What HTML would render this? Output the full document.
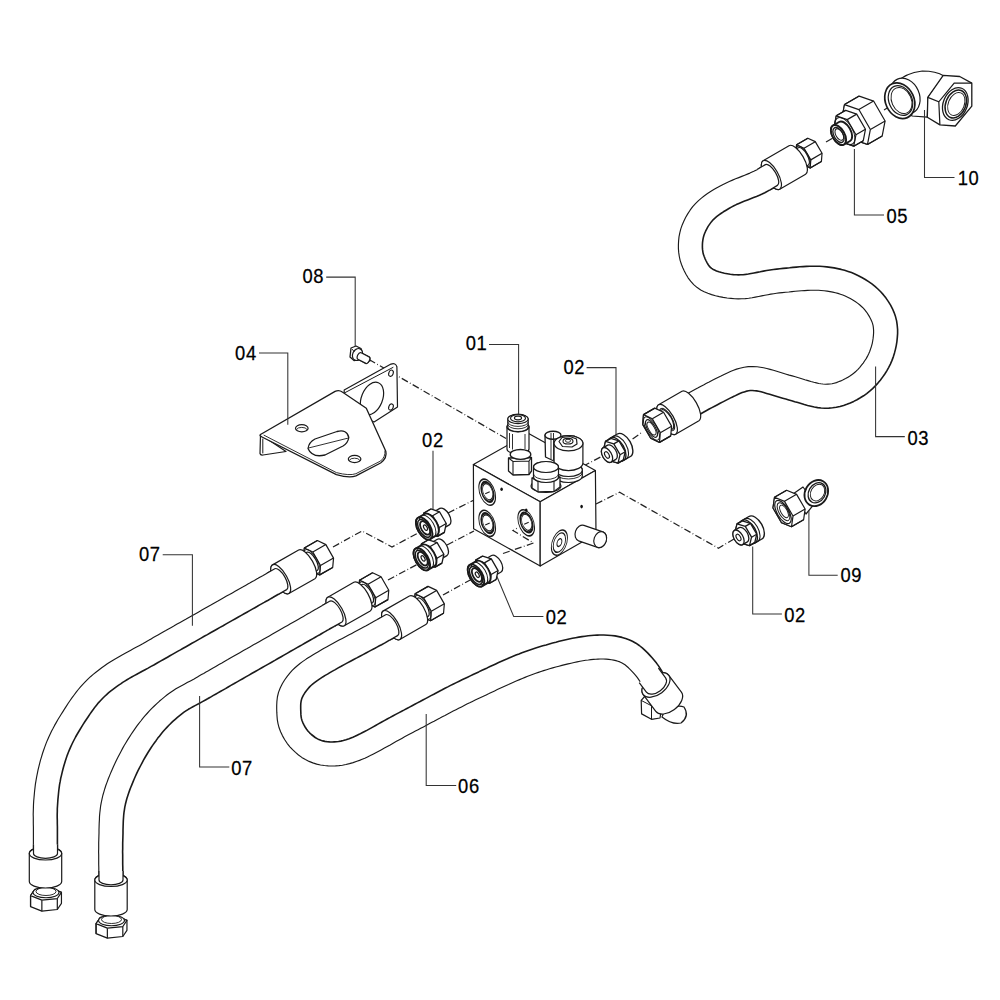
<!DOCTYPE html>
<html><head><meta charset="utf-8"><style>
html,body{margin:0;padding:0;background:#fff;width:1000px;height:1000px;overflow:hidden}
svg{display:block}
text{font-family:"Liberation Sans",sans-serif;font-size:20px;fill:#000;stroke:#000;stroke-width:0.25px}
</style></head><body>
<svg width="1000" height="1000" viewBox="0 0 1000 1000">
<rect width="1000" height="1000" fill="#fff"/>
<path d="M274.8,568.8 L272.0,570.3 L269.5,571.8 L266.6,573.5 L262.7,575.7 L261.3,576.4 L259.8,577.3 L258.1,578.3 L256.3,579.3 L254.4,580.4 L252.3,581.5 L250.2,582.8 L247.9,584.0 L245.5,585.4 L243.1,586.8 L240.5,588.2 L237.8,589.7 L235.1,591.3 L232.3,592.9 L229.5,594.5 L226.5,596.1 L223.6,597.8 L220.6,599.5 L217.5,601.3 L214.4,603.0 L211.3,604.8 L208.2,606.5 L205.0,608.3 L201.9,610.1 L198.7,611.9 L195.6,613.7 L192.4,615.5 L189.3,617.2 L186.2,619.0 L183.1,620.7 L180.1,622.4 L177.1,624.1 L174.2,625.8 L171.3,627.4 L168.5,629.0 L165.8,630.6 L163.1,632.1 L160.5,633.6 L158.0,635.0 L155.6,636.3 L153.3,637.6 L151.1,638.9 L149.1,640.1 L145.8,641.9 L142.7,643.7 L139.6,645.4 L136.6,647.0 L133.7,648.6 L130.8,650.2 L128.0,651.7 L125.2,653.2 L122.5,654.7 L119.9,656.2 L117.3,657.7 L114.7,659.2 L112.2,660.7 L109.7,662.3 L107.3,663.8 L104.9,665.5 L101.7,667.7 L98.8,670.0 L95.9,672.2 L93.2,674.4 L90.5,676.7 L87.9,679.1 L85.4,681.7 L82.8,684.3 L80.5,686.9 L78.3,689.5 L76.2,692.2 L74.1,695.0 L72.1,697.7 L70.1,700.5 L68.2,703.3 L66.4,706.1 L64.6,708.9 L62.9,711.6 L61.2,714.3 L59.5,717.0 L57.8,719.8 L56.2,722.6 L54.6,725.4 L53.1,728.3 L51.5,731.2 L50.1,734.2 L48.7,737.3 L47.3,740.4 L46.0,743.6 L44.8,746.9 L43.6,750.2 L42.5,753.5 L41.5,756.9 L40.5,760.2 L39.6,763.6 L38.8,766.9 L38.0,770.2 L37.3,773.6 L36.6,777.1 L36.0,780.6 L35.4,784.1 L35.0,787.6 L34.6,791.0 L34.3,794.4 L34.0,797.8 L33.7,801.0 L33.5,804.3 L33.4,807.7 L33.3,811.1 L33.2,814.4 L33.3,817.6 L33.3,820.7 L33.3,823.8 L33.4,826.9 L33.4,830.0 L33.4,832.9 L33.4,835.9 L33.4,838.8 L33.4,841.8 L33.4,844.9 L33.4,847.9 L33.5,851.0 L33.5,854.0 L33.5,857.0 L33.5,860.0 L57.5,860.0 L57.5,856.9 L57.5,853.9 L57.5,850.9 L57.4,847.8 L57.4,844.8 L57.4,841.8 L57.4,838.8 L57.4,835.8 L57.4,832.9 L57.4,830.0 L57.4,826.7 L57.3,823.5 L57.3,820.4 L57.2,817.4 L57.2,814.4 L57.3,811.5 L57.3,808.7 L57.5,805.7 L57.7,802.7 L57.9,799.6 L58.2,796.6 L58.5,793.5 L58.8,790.5 L59.2,787.4 L59.6,784.4 L60.2,781.4 L60.7,778.4 L61.4,775.6 L62.1,772.6 L62.8,769.7 L63.6,766.7 L64.5,763.8 L65.4,760.8 L66.3,757.9 L67.3,755.1 L68.4,752.3 L69.5,749.6 L70.6,747.1 L71.8,744.5 L73.0,742.0 L74.3,739.5 L75.6,737.0 L77.0,734.5 L78.5,732.0 L80.0,729.5 L81.6,726.9 L83.1,724.4 L84.8,721.8 L86.5,719.2 L88.2,716.7 L89.9,714.1 L91.6,711.7 L93.4,709.3 L95.1,706.9 L96.9,704.7 L98.6,702.6 L100.4,700.7 L102.5,698.5 L104.5,696.5 L106.6,694.6 L108.7,692.7 L110.9,690.9 L113.3,689.1 L115.9,687.1 L118.7,685.1 L120.7,683.8 L122.7,682.4 L124.8,681.1 L127.0,679.8 L129.3,678.4 L131.7,677.0 L134.2,675.6 L136.8,674.2 L139.5,672.8 L142.2,671.2 L145.1,669.7 L148.1,668.1 L151.1,666.4 L154.3,664.7 L157.6,662.8 L160.9,660.9 L163.0,659.7 L165.2,658.5 L167.5,657.2 L169.9,655.8 L172.4,654.4 L175.0,652.9 L177.6,651.4 L180.4,649.9 L183.2,648.3 L186.0,646.7 L189.0,645.0 L191.9,643.3 L195.0,641.6 L198.0,639.9 L201.1,638.1 L204.2,636.3 L207.4,634.6 L210.5,632.8 L213.7,631.0 L216.8,629.2 L220.0,627.4 L223.1,625.7 L226.2,623.9 L229.3,622.1 L232.4,620.4 L235.4,618.7 L238.4,617.0 L241.3,615.4 L244.1,613.8 L246.9,612.2 L249.7,610.6 L252.3,609.1 L254.9,607.7 L257.4,606.3 L259.7,604.9 L262.0,603.6 L264.2,602.4 L266.2,601.2 L268.2,600.2 L270.0,599.1 L271.6,598.2 L273.2,597.3 L274.5,596.5 L278.4,594.3 L281.4,592.6 L283.9,591.2 L286.6,589.6Z" fill="#fff" stroke="none"/>
<path d="M274.8,568.8 L272.0,570.3 L269.5,571.8 L266.6,573.5 L262.7,575.7 L261.3,576.4 L259.8,577.3 L258.1,578.3 L256.3,579.3 L254.4,580.4 L252.3,581.5 L250.2,582.8 L247.9,584.0 L245.5,585.4 L243.1,586.8 L240.5,588.2 L237.8,589.7 L235.1,591.3 L232.3,592.9 L229.5,594.5 L226.5,596.1 L223.6,597.8 L220.6,599.5 L217.5,601.3 L214.4,603.0 L211.3,604.8 L208.2,606.5 L205.0,608.3 L201.9,610.1 L198.7,611.9 L195.6,613.7 L192.4,615.5 L189.3,617.2 L186.2,619.0 L183.1,620.7 L180.1,622.4 L177.1,624.1 L174.2,625.8 L171.3,627.4 L168.5,629.0 L165.8,630.6 L163.1,632.1 L160.5,633.6 L158.0,635.0 L155.6,636.3 L153.3,637.6 L151.1,638.9 L149.1,640.1 L145.8,641.9 L142.7,643.7 L139.6,645.4 L136.6,647.0 L133.7,648.6 L130.8,650.2 L128.0,651.7 L125.2,653.2 L122.5,654.7 L119.9,656.2 L117.3,657.7 L114.7,659.2 L112.2,660.7 L109.7,662.3 L107.3,663.8 L104.9,665.5 L101.7,667.7 L98.8,670.0 L95.9,672.2 L93.2,674.4 L90.5,676.7 L87.9,679.1 L85.4,681.7 L82.8,684.3 L80.5,686.9 L78.3,689.5 L76.2,692.2 L74.1,695.0 L72.1,697.7 L70.1,700.5 L68.2,703.3 L66.4,706.1 L64.6,708.9 L62.9,711.6 L61.2,714.3 L59.5,717.0 L57.8,719.8 L56.2,722.6 L54.6,725.4 L53.1,728.3 L51.5,731.2 L50.1,734.2 L48.7,737.3 L47.3,740.4 L46.0,743.6 L44.8,746.9 L43.6,750.2 L42.5,753.5 L41.5,756.9 L40.5,760.2 L39.6,763.6 L38.8,766.9 L38.0,770.2 L37.3,773.6 L36.6,777.1 L36.0,780.6 L35.4,784.1 L35.0,787.6 L34.6,791.0 L34.3,794.4 L34.0,797.8 L33.7,801.0 L33.5,804.3 L33.4,807.7 L33.3,811.1 L33.2,814.4 L33.3,817.6 L33.3,820.7 L33.3,823.8 L33.4,826.9 L33.4,830.0 L33.4,832.9 L33.4,835.9 L33.4,838.8 L33.4,841.8 L33.4,844.9 L33.4,847.9 L33.5,851.0 L33.5,854.0 L33.5,857.0 L33.5,860.0" fill="none" stroke="#1a1a1a" stroke-width="1.15" stroke-linejoin="round"/>
<path d="M286.6,589.6 L283.9,591.2 L281.4,592.6 L278.4,594.3 L274.5,596.5 L273.2,597.3 L271.6,598.2 L270.0,599.1 L268.2,600.2 L266.2,601.2 L264.2,602.4 L262.0,603.6 L259.7,604.9 L257.4,606.3 L254.9,607.7 L252.3,609.1 L249.7,610.6 L246.9,612.2 L244.1,613.8 L241.3,615.4 L238.4,617.0 L235.4,618.7 L232.4,620.4 L229.3,622.1 L226.2,623.9 L223.1,625.7 L220.0,627.4 L216.8,629.2 L213.7,631.0 L210.5,632.8 L207.4,634.6 L204.2,636.3 L201.1,638.1 L198.0,639.9 L195.0,641.6 L191.9,643.3 L189.0,645.0 L186.0,646.7 L183.2,648.3 L180.4,649.9 L177.6,651.4 L175.0,652.9 L172.4,654.4 L169.9,655.8 L167.5,657.2 L165.2,658.5 L163.0,659.7 L160.9,660.9 L157.6,662.8 L154.3,664.7 L151.1,666.4 L148.1,668.1 L145.1,669.7 L142.2,671.2 L139.5,672.8 L136.8,674.2 L134.2,675.6 L131.7,677.0 L129.3,678.4 L127.0,679.8 L124.8,681.1 L122.7,682.4 L120.7,683.8 L118.7,685.1 L115.9,687.1 L113.3,689.1 L110.9,690.9 L108.7,692.7 L106.6,694.6 L104.5,696.5 L102.5,698.5 L100.4,700.7 L98.6,702.6 L96.9,704.7 L95.1,706.9 L93.4,709.3 L91.6,711.7 L89.9,714.1 L88.2,716.7 L86.5,719.2 L84.8,721.8 L83.1,724.4 L81.6,726.9 L80.0,729.5 L78.5,732.0 L77.0,734.5 L75.6,737.0 L74.3,739.5 L73.0,742.0 L71.8,744.5 L70.6,747.1 L69.5,749.6 L68.4,752.3 L67.3,755.1 L66.3,757.9 L65.4,760.8 L64.5,763.8 L63.6,766.7 L62.8,769.7 L62.1,772.6 L61.4,775.6 L60.7,778.4 L60.2,781.4 L59.6,784.4 L59.2,787.4 L58.8,790.5 L58.5,793.5 L58.2,796.6 L57.9,799.6 L57.7,802.7 L57.5,805.7 L57.3,808.7 L57.3,811.5 L57.2,814.4 L57.2,817.4 L57.3,820.4 L57.3,823.5 L57.4,826.7 L57.4,830.0 L57.4,832.9 L57.4,835.8 L57.4,838.8 L57.4,841.8 L57.4,844.8 L57.4,847.8 L57.5,850.9 L57.5,853.9 L57.5,856.9 L57.5,860.0" fill="none" stroke="#1a1a1a" stroke-width="1.6" stroke-linejoin="round"/>
<path d="M330.0,601.1 L327.3,602.7 L324.8,604.1 L321.9,605.8 L318.0,608.0 L316.7,608.8 L315.2,609.6 L313.6,610.5 L311.8,611.6 L309.9,612.7 L307.8,613.8 L305.7,615.1 L303.4,616.4 L301.0,617.7 L298.5,619.2 L295.9,620.7 L293.2,622.2 L290.4,623.8 L287.6,625.4 L284.7,627.1 L281.7,628.8 L278.7,630.5 L275.6,632.3 L272.5,634.1 L269.3,635.9 L266.1,637.7 L262.9,639.5 L259.6,641.4 L256.4,643.2 L253.1,645.1 L249.9,646.9 L246.7,648.8 L243.4,650.6 L240.2,652.5 L237.1,654.3 L233.9,656.1 L230.8,657.8 L227.8,659.6 L224.8,661.3 L221.9,663.0 L219.0,664.6 L216.2,666.2 L213.5,667.7 L210.9,669.2 L208.4,670.7 L206.0,672.0 L203.7,673.4 L201.5,674.6 L199.4,675.8 L197.5,676.9 L195.7,677.9 L194.1,678.9 L190.4,680.9 L187.2,682.6 L184.3,684.2 L181.5,685.7 L178.7,687.2 L175.9,688.8 L173.0,690.7 L170.0,692.8 L167.2,694.8 L164.6,696.9 L161.9,699.1 L159.3,701.3 L156.8,703.6 L154.3,706.0 L151.8,708.4 L149.4,710.9 L147.1,713.5 L144.9,715.9 L142.8,718.4 L140.8,721.0 L138.7,723.6 L136.8,726.2 L134.9,728.9 L133.0,731.6 L131.2,734.3 L129.4,737.1 L127.6,739.9 L125.9,742.7 L124.2,745.5 L122.6,748.4 L121.0,751.4 L119.4,754.4 L117.8,757.4 L116.3,760.4 L114.9,763.4 L113.5,766.4 L112.2,769.4 L110.9,772.4 L109.6,775.6 L108.3,778.8 L107.1,782.1 L105.9,785.3 L104.8,788.7 L103.8,792.1 L102.8,795.5 L102.0,799.1 L101.2,802.8 L100.6,806.2 L100.2,809.6 L99.8,813.0 L99.5,816.4 L99.4,819.7 L99.2,823.1 L99.1,826.4 L99.0,829.7 L99.0,833.0 L98.9,836.3 L98.8,839.7 L98.7,842.6 L98.7,845.7 L98.7,848.7 L98.6,851.8 L98.7,854.9 L98.7,858.0 L98.7,861.2 L98.7,864.3 L98.8,867.5 L98.8,870.6 L98.9,873.7 L98.9,876.9 L99.0,879.9 L99.0,883.0 L99.0,886.1 L123.0,885.9 L123.0,882.8 L123.0,879.7 L122.9,876.5 L122.9,873.4 L122.8,870.3 L122.8,867.1 L122.7,864.0 L122.7,860.9 L122.7,857.9 L122.7,854.8 L122.6,851.8 L122.7,848.9 L122.7,846.0 L122.7,843.1 L122.8,840.3 L122.9,836.9 L123.0,833.5 L123.0,830.2 L123.1,827.1 L123.2,823.9 L123.3,820.9 L123.5,818.0 L123.7,815.2 L124.0,812.4 L124.4,809.8 L124.8,807.2 L125.4,804.3 L126.1,801.5 L126.8,798.7 L127.7,796.0 L128.6,793.2 L129.6,790.4 L130.7,787.5 L131.9,784.6 L133.1,781.6 L134.2,779.0 L135.4,776.3 L136.6,773.6 L137.9,770.9 L139.3,768.2 L140.7,765.5 L142.1,762.8 L143.5,760.1 L145.0,757.5 L146.5,755.0 L148.0,752.5 L149.6,750.0 L151.2,747.5 L152.8,745.1 L154.5,742.7 L156.2,740.4 L157.8,738.1 L159.6,735.9 L161.3,733.7 L163.1,731.6 L164.9,729.5 L166.9,727.4 L168.9,725.3 L171.0,723.2 L173.1,721.2 L175.2,719.3 L177.4,717.4 L179.6,715.6 L181.8,713.9 L184.0,712.2 L186.3,710.7 L188.4,709.3 L190.5,708.1 L192.9,706.8 L195.5,705.4 L198.6,703.8 L202.0,701.9 L205.9,699.7 L207.6,698.8 L209.4,697.7 L211.4,696.6 L213.4,695.4 L215.6,694.2 L217.9,692.9 L220.3,691.5 L222.8,690.1 L225.5,688.6 L228.2,687.0 L230.9,685.4 L233.8,683.8 L236.7,682.1 L239.7,680.4 L242.7,678.7 L245.8,676.9 L249.0,675.1 L252.1,673.3 L255.3,671.5 L258.6,669.6 L261.8,667.8 L265.1,665.9 L268.3,664.1 L271.6,662.2 L274.8,660.4 L278.0,658.5 L281.2,656.7 L284.4,654.9 L287.5,653.1 L290.6,651.3 L293.6,649.6 L296.6,647.9 L299.5,646.2 L302.4,644.6 L305.1,643.0 L307.8,641.5 L310.4,640.0 L312.9,638.6 L315.3,637.2 L317.6,635.9 L319.8,634.7 L321.8,633.5 L323.7,632.4 L325.5,631.4 L327.1,630.4 L328.6,629.6 L330.0,628.8 L333.9,626.6 L336.8,624.9 L339.3,623.5 L342.0,621.9Z" fill="#fff" stroke="none"/>
<path d="M330.0,601.1 L327.3,602.7 L324.8,604.1 L321.9,605.8 L318.0,608.0 L316.7,608.8 L315.2,609.6 L313.6,610.5 L311.8,611.6 L309.9,612.7 L307.8,613.8 L305.7,615.1 L303.4,616.4 L301.0,617.7 L298.5,619.2 L295.9,620.7 L293.2,622.2 L290.4,623.8 L287.6,625.4 L284.7,627.1 L281.7,628.8 L278.7,630.5 L275.6,632.3 L272.5,634.1 L269.3,635.9 L266.1,637.7 L262.9,639.5 L259.6,641.4 L256.4,643.2 L253.1,645.1 L249.9,646.9 L246.7,648.8 L243.4,650.6 L240.2,652.5 L237.1,654.3 L233.9,656.1 L230.8,657.8 L227.8,659.6 L224.8,661.3 L221.9,663.0 L219.0,664.6 L216.2,666.2 L213.5,667.7 L210.9,669.2 L208.4,670.7 L206.0,672.0 L203.7,673.4 L201.5,674.6 L199.4,675.8 L197.5,676.9 L195.7,677.9 L194.1,678.9 L190.4,680.9 L187.2,682.6 L184.3,684.2 L181.5,685.7 L178.7,687.2 L175.9,688.8 L173.0,690.7 L170.0,692.8 L167.2,694.8 L164.6,696.9 L161.9,699.1 L159.3,701.3 L156.8,703.6 L154.3,706.0 L151.8,708.4 L149.4,710.9 L147.1,713.5 L144.9,715.9 L142.8,718.4 L140.8,721.0 L138.7,723.6 L136.8,726.2 L134.9,728.9 L133.0,731.6 L131.2,734.3 L129.4,737.1 L127.6,739.9 L125.9,742.7 L124.2,745.5 L122.6,748.4 L121.0,751.4 L119.4,754.4 L117.8,757.4 L116.3,760.4 L114.9,763.4 L113.5,766.4 L112.2,769.4 L110.9,772.4 L109.6,775.6 L108.3,778.8 L107.1,782.1 L105.9,785.3 L104.8,788.7 L103.8,792.1 L102.8,795.5 L102.0,799.1 L101.2,802.8 L100.6,806.2 L100.2,809.6 L99.8,813.0 L99.5,816.4 L99.4,819.7 L99.2,823.1 L99.1,826.4 L99.0,829.7 L99.0,833.0 L98.9,836.3 L98.8,839.7 L98.7,842.6 L98.7,845.7 L98.7,848.7 L98.6,851.8 L98.7,854.9 L98.7,858.0 L98.7,861.2 L98.7,864.3 L98.8,867.5 L98.8,870.6 L98.9,873.7 L98.9,876.9 L99.0,879.9 L99.0,883.0 L99.0,886.1" fill="none" stroke="#1a1a1a" stroke-width="1.15" stroke-linejoin="round"/>
<path d="M342.0,621.9 L339.3,623.5 L336.8,624.9 L333.9,626.6 L330.0,628.8 L328.6,629.6 L327.1,630.4 L325.5,631.4 L323.7,632.4 L321.8,633.5 L319.8,634.7 L317.6,635.9 L315.3,637.2 L312.9,638.6 L310.4,640.0 L307.8,641.5 L305.1,643.0 L302.4,644.6 L299.5,646.2 L296.6,647.9 L293.6,649.6 L290.6,651.3 L287.5,653.1 L284.4,654.9 L281.2,656.7 L278.0,658.5 L274.8,660.4 L271.6,662.2 L268.3,664.1 L265.1,665.9 L261.8,667.8 L258.6,669.6 L255.3,671.5 L252.1,673.3 L249.0,675.1 L245.8,676.9 L242.7,678.7 L239.7,680.4 L236.7,682.1 L233.8,683.8 L230.9,685.4 L228.2,687.0 L225.5,688.6 L222.8,690.1 L220.3,691.5 L217.9,692.9 L215.6,694.2 L213.4,695.4 L211.4,696.6 L209.4,697.7 L207.6,698.8 L205.9,699.7 L202.0,701.9 L198.6,703.8 L195.5,705.4 L192.9,706.8 L190.5,708.1 L188.4,709.3 L186.3,710.7 L184.0,712.2 L181.8,713.9 L179.6,715.6 L177.4,717.4 L175.2,719.3 L173.1,721.2 L171.0,723.2 L168.9,725.3 L166.9,727.4 L164.9,729.5 L163.1,731.6 L161.3,733.7 L159.6,735.9 L157.8,738.1 L156.2,740.4 L154.5,742.7 L152.8,745.1 L151.2,747.5 L149.6,750.0 L148.0,752.5 L146.5,755.0 L145.0,757.5 L143.5,760.1 L142.1,762.8 L140.7,765.5 L139.3,768.2 L137.9,770.9 L136.6,773.6 L135.4,776.3 L134.2,779.0 L133.1,781.6 L131.9,784.6 L130.7,787.5 L129.6,790.4 L128.6,793.2 L127.7,796.0 L126.8,798.7 L126.1,801.5 L125.4,804.3 L124.8,807.2 L124.4,809.8 L124.0,812.4 L123.7,815.2 L123.5,818.0 L123.3,820.9 L123.2,823.9 L123.1,827.1 L123.0,830.2 L123.0,833.5 L122.9,836.9 L122.8,840.3 L122.7,843.1 L122.7,846.0 L122.7,848.9 L122.6,851.8 L122.7,854.8 L122.7,857.9 L122.7,860.9 L122.7,864.0 L122.8,867.1 L122.8,870.3 L122.9,873.4 L122.9,876.5 L123.0,879.7 L123.0,882.8 L123.0,885.9" fill="none" stroke="#1a1a1a" stroke-width="1.6" stroke-linejoin="round"/>
<path d="M385.6,614.8 L382.8,616.4 L380.2,617.9 L377.3,619.6 L373.6,621.6 L372.0,622.5 L370.1,623.6 L368.0,624.7 L365.7,626.0 L363.2,627.3 L360.5,628.7 L357.7,630.2 L354.8,631.8 L351.8,633.4 L348.7,635.0 L345.5,636.7 L342.3,638.4 L339.1,640.1 L335.9,641.8 L332.8,643.5 L329.6,645.3 L326.5,647.0 L323.6,648.6 L320.7,650.3 L317.9,651.9 L315.2,653.4 L312.7,654.9 L310.4,656.4 L308.2,657.8 L306.2,659.1 L302.9,661.4 L300.0,663.5 L297.3,665.7 L294.7,668.0 L292.2,670.4 L289.8,673.1 L287.2,676.4 L284.6,680.0 L282.3,683.8 L280.2,688.0 L278.5,692.4 L277.4,697.0 L276.9,701.4 L276.7,705.5 L276.7,709.1 L276.8,712.4 L277.0,715.9 L277.3,719.6 L278.0,723.6 L279.1,727.8 L280.6,731.7 L282.4,735.6 L284.6,739.5 L287.1,743.3 L289.9,746.8 L292.6,749.7 L295.5,752.4 L298.5,755.0 L301.8,757.4 L305.4,759.6 L309.1,761.4 L312.8,762.9 L316.7,764.1 L320.5,765.0 L324.4,765.5 L328.2,765.9 L331.9,766.0 L335.5,765.9 L338.9,765.6 L342.4,765.2 L345.9,764.5 L349.5,763.6 L353.1,762.6 L356.9,761.3 L359.5,760.4 L362.2,759.3 L364.8,758.2 L367.5,756.9 L370.3,755.6 L373.0,754.2 L375.8,752.7 L378.7,751.2 L381.5,749.7 L384.4,748.1 L387.3,746.5 L390.2,744.9 L393.1,743.2 L396.0,741.6 L398.9,740.0 L401.8,738.4 L404.6,736.8 L407.4,735.3 L410.3,733.8 L412.8,732.5 L415.4,731.1 L418.1,729.7 L420.7,728.3 L423.4,726.9 L426.1,725.5 L428.7,724.1 L431.4,722.6 L434.1,721.2 L436.8,719.7 L439.6,718.3 L442.3,716.8 L445.0,715.4 L447.7,713.9 L450.5,712.5 L453.2,711.1 L456.0,709.7 L458.7,708.3 L461.5,706.9 L464.2,705.5 L466.9,704.1 L469.7,702.8 L472.4,701.4 L475.2,700.1 L477.9,698.8 L480.7,697.5 L483.4,696.2 L486.2,694.9 L489.0,693.6 L491.8,692.2 L494.6,690.9 L497.3,689.6 L500.1,688.3 L502.9,687.0 L505.7,685.7 L508.5,684.5 L511.3,683.2 L514.0,682.0 L516.8,680.8 L519.6,679.6 L522.3,678.5 L525.0,677.4 L527.7,676.3 L530.4,675.2 L533.1,674.2 L535.8,673.3 L538.4,672.4 L541.0,671.5 L543.6,670.6 L546.6,669.7 L549.6,668.8 L552.7,667.9 L555.8,667.0 L558.9,666.2 L561.9,665.4 L565.0,664.6 L568.1,663.9 L571.1,663.2 L574.1,662.5 L577.1,661.9 L580.0,661.3 L582.9,660.8 L585.6,660.3 L588.3,660.0 L590.9,659.6 L593.4,659.4 L595.8,659.2 L598.0,659.1 L600.1,659.0 L603.2,659.0 L606.1,659.1 L608.8,659.4 L611.4,659.7 L613.7,660.1 L615.9,660.6 L617.9,661.2 L619.9,661.9 L621.6,662.7 L623.3,663.7 L625.0,664.8 L626.7,666.2 L628.5,667.8 L630.3,669.6 L632.2,671.6 L634.1,673.7 L635.8,675.7 L637.4,677.7 L638.9,679.8 L640.4,682.0 L641.9,684.4 L643.5,687.0 L645.2,689.8 L646.9,692.5 L667.1,679.5 L665.5,677.0 L664.0,674.5 L662.3,671.9 L660.6,669.1 L658.7,666.1 L656.5,663.1 L654.2,660.3 L652.1,657.8 L649.9,655.4 L647.6,652.9 L645.0,650.4 L642.3,647.9 L639.3,645.5 L635.9,643.2 L632.4,641.3 L629.0,639.7 L625.6,638.5 L622.1,637.4 L618.6,636.6 L615.0,635.9 L611.3,635.5 L607.6,635.2 L603.8,635.0 L599.9,635.0 L597.1,635.1 L594.1,635.2 L591.2,635.5 L588.2,635.8 L585.1,636.2 L582.0,636.6 L578.8,637.1 L575.6,637.7 L572.4,638.3 L569.1,639.0 L565.8,639.7 L562.5,640.5 L559.2,641.3 L555.9,642.2 L552.6,643.0 L549.3,643.9 L546.1,644.9 L542.8,645.8 L539.6,646.8 L536.4,647.8 L533.5,648.7 L530.6,649.7 L527.7,650.7 L524.8,651.7 L521.9,652.8 L519.0,654.0 L516.0,655.1 L513.1,656.3 L510.2,657.5 L507.3,658.8 L504.4,660.0 L501.5,661.3 L498.6,662.6 L495.7,663.9 L492.9,665.2 L490.0,666.5 L487.2,667.9 L484.3,669.2 L481.5,670.5 L478.7,671.9 L475.9,673.2 L473.1,674.5 L470.3,675.9 L467.6,677.2 L464.8,678.5 L462.0,679.8 L459.2,681.2 L456.3,682.6 L453.5,684.0 L450.6,685.4 L447.8,686.9 L445.0,688.3 L442.2,689.8 L439.4,691.2 L436.6,692.7 L433.8,694.2 L431.0,695.6 L428.3,697.1 L425.5,698.6 L422.8,700.0 L420.1,701.5 L417.4,702.9 L414.8,704.3 L412.1,705.7 L409.5,707.1 L406.9,708.5 L404.3,709.9 L401.7,711.2 L399.1,712.6 L396.2,714.1 L393.2,715.7 L390.2,717.4 L387.2,719.0 L384.3,720.6 L381.3,722.3 L378.4,723.9 L375.6,725.5 L372.7,727.1 L370.0,728.6 L367.3,730.1 L364.6,731.5 L362.1,732.8 L359.6,734.1 L357.2,735.2 L355.0,736.3 L352.9,737.2 L350.9,738.0 L349.1,738.7 L346.0,739.7 L343.3,740.5 L340.8,741.1 L338.5,741.5 L336.4,741.8 L334.2,741.9 L332.1,742.0 L329.6,741.9 L327.2,741.7 L324.9,741.4 L322.8,740.9 L320.8,740.3 L318.9,739.6 L317.1,738.6 L315.2,737.5 L313.3,736.0 L311.4,734.5 L309.6,732.8 L308.1,731.2 L306.6,729.2 L305.1,727.0 L303.8,724.7 L302.7,722.3 L301.9,720.2 L301.4,718.4 L301.1,716.6 L300.9,714.4 L300.8,711.6 L300.7,708.7 L300.7,705.9 L300.8,703.4 L301.1,701.3 L301.5,699.6 L302.2,697.6 L303.3,695.4 L304.7,693.1 L306.4,690.8 L308.2,688.5 L309.6,686.9 L311.0,685.5 L312.6,684.2 L314.5,682.7 L316.9,680.9 L319.8,678.9 L321.3,677.9 L323.1,676.7 L325.2,675.4 L327.5,674.1 L329.9,672.6 L332.5,671.1 L335.3,669.6 L338.2,667.9 L341.2,666.3 L344.2,664.6 L347.4,662.9 L350.5,661.2 L353.7,659.5 L356.8,657.9 L359.9,656.2 L363.0,654.6 L366.0,653.0 L369.0,651.4 L371.8,649.9 L374.5,648.5 L377.0,647.1 L379.4,645.8 L381.6,644.7 L383.6,643.6 L385.4,642.6 L389.1,640.4 L392.1,638.7 L394.8,637.2 L397.6,635.6Z" fill="#fff" stroke="none"/>
<path d="M385.6,614.8 L382.8,616.4 L380.2,617.9 L377.3,619.6 L373.6,621.6 L372.0,622.5 L370.1,623.6 L368.0,624.7 L365.7,626.0 L363.2,627.3 L360.5,628.7 L357.7,630.2 L354.8,631.8 L351.8,633.4 L348.7,635.0 L345.5,636.7 L342.3,638.4 L339.1,640.1 L335.9,641.8 L332.8,643.5 L329.6,645.3 L326.5,647.0 L323.6,648.6 L320.7,650.3 L317.9,651.9 L315.2,653.4 L312.7,654.9 L310.4,656.4 L308.2,657.8 L306.2,659.1 L302.9,661.4 L300.0,663.5 L297.3,665.7 L294.7,668.0 L292.2,670.4 L289.8,673.1 L287.2,676.4 L284.6,680.0 L282.3,683.8 L280.2,688.0 L278.5,692.4 L277.4,697.0 L276.9,701.4 L276.7,705.5 L276.7,709.1 L276.8,712.4 L277.0,715.9 L277.3,719.6 L278.0,723.6 L279.1,727.8 L280.6,731.7 L282.4,735.6 L284.6,739.5 L287.1,743.3 L289.9,746.8 L292.6,749.7 L295.5,752.4 L298.5,755.0 L301.8,757.4 L305.4,759.6 L309.1,761.4 L312.8,762.9 L316.7,764.1 L320.5,765.0 L324.4,765.5 L328.2,765.9 L331.9,766.0 L335.5,765.9 L338.9,765.6 L342.4,765.2 L345.9,764.5 L349.5,763.6 L353.1,762.6 L356.9,761.3 L359.5,760.4 L362.2,759.3 L364.8,758.2 L367.5,756.9 L370.3,755.6 L373.0,754.2 L375.8,752.7 L378.7,751.2 L381.5,749.7 L384.4,748.1 L387.3,746.5 L390.2,744.9 L393.1,743.2 L396.0,741.6 L398.9,740.0 L401.8,738.4 L404.6,736.8 L407.4,735.3 L410.3,733.8 L412.8,732.5 L415.4,731.1 L418.1,729.7 L420.7,728.3 L423.4,726.9 L426.1,725.5 L428.7,724.1 L431.4,722.6 L434.1,721.2 L436.8,719.7 L439.6,718.3 L442.3,716.8 L445.0,715.4 L447.7,713.9 L450.5,712.5 L453.2,711.1 L456.0,709.7 L458.7,708.3 L461.5,706.9 L464.2,705.5 L466.9,704.1 L469.7,702.8 L472.4,701.4 L475.2,700.1 L477.9,698.8 L480.7,697.5 L483.4,696.2 L486.2,694.9 L489.0,693.6 L491.8,692.2 L494.6,690.9 L497.3,689.6 L500.1,688.3 L502.9,687.0 L505.7,685.7 L508.5,684.5 L511.3,683.2 L514.0,682.0 L516.8,680.8 L519.6,679.6 L522.3,678.5 L525.0,677.4 L527.7,676.3 L530.4,675.2 L533.1,674.2 L535.8,673.3 L538.4,672.4 L541.0,671.5 L543.6,670.6 L546.6,669.7 L549.6,668.8 L552.7,667.9 L555.8,667.0 L558.9,666.2 L561.9,665.4 L565.0,664.6 L568.1,663.9 L571.1,663.2 L574.1,662.5 L577.1,661.9 L580.0,661.3 L582.9,660.8 L585.6,660.3 L588.3,660.0 L590.9,659.6 L593.4,659.4 L595.8,659.2 L598.0,659.1 L600.1,659.0 L603.2,659.0 L606.1,659.1 L608.8,659.4 L611.4,659.7 L613.7,660.1 L615.9,660.6 L617.9,661.2 L619.9,661.9 L621.6,662.7 L623.3,663.7 L625.0,664.8 L626.7,666.2 L628.5,667.8 L630.3,669.6 L632.2,671.6 L634.1,673.7 L635.8,675.7 L637.4,677.7 L638.9,679.8 L640.4,682.0 L641.9,684.4 L643.5,687.0 L645.2,689.8 L646.9,692.5" fill="none" stroke="#1a1a1a" stroke-width="1.15" stroke-linejoin="round"/>
<path d="M397.6,635.6 L394.8,637.2 L392.1,638.7 L389.1,640.4 L385.4,642.6 L383.6,643.6 L381.6,644.7 L379.4,645.8 L377.0,647.1 L374.5,648.5 L371.8,649.9 L369.0,651.4 L366.0,653.0 L363.0,654.6 L359.9,656.2 L356.8,657.9 L353.7,659.5 L350.5,661.2 L347.4,662.9 L344.2,664.6 L341.2,666.3 L338.2,667.9 L335.3,669.6 L332.5,671.1 L329.9,672.6 L327.5,674.1 L325.2,675.4 L323.1,676.7 L321.3,677.9 L319.8,678.9 L316.9,680.9 L314.5,682.7 L312.6,684.2 L311.0,685.5 L309.6,686.9 L308.2,688.5 L306.4,690.8 L304.7,693.1 L303.3,695.4 L302.2,697.6 L301.5,699.6 L301.1,701.3 L300.8,703.4 L300.7,705.9 L300.7,708.7 L300.8,711.6 L300.9,714.4 L301.1,716.6 L301.4,718.4 L301.9,720.2 L302.7,722.3 L303.8,724.7 L305.1,727.0 L306.6,729.2 L308.1,731.2 L309.6,732.8 L311.4,734.5 L313.3,736.0 L315.2,737.5 L317.1,738.6 L318.9,739.6 L320.8,740.3 L322.8,740.9 L324.9,741.4 L327.2,741.7 L329.6,741.9 L332.1,742.0 L334.2,741.9 L336.4,741.8 L338.5,741.5 L340.8,741.1 L343.3,740.5 L346.0,739.7 L349.1,738.7 L350.9,738.0 L352.9,737.2 L355.0,736.3 L357.2,735.2 L359.6,734.1 L362.1,732.8 L364.6,731.5 L367.3,730.1 L370.0,728.6 L372.7,727.1 L375.6,725.5 L378.4,723.9 L381.3,722.3 L384.3,720.6 L387.2,719.0 L390.2,717.4 L393.2,715.7 L396.2,714.1 L399.1,712.6 L401.7,711.2 L404.3,709.9 L406.9,708.5 L409.5,707.1 L412.1,705.7 L414.8,704.3 L417.4,702.9 L420.1,701.5 L422.8,700.0 L425.5,698.6 L428.3,697.1 L431.0,695.6 L433.8,694.2 L436.6,692.7 L439.4,691.2 L442.2,689.8 L445.0,688.3 L447.8,686.9 L450.6,685.4 L453.5,684.0 L456.3,682.6 L459.2,681.2 L462.0,679.8 L464.8,678.5 L467.6,677.2 L470.3,675.9 L473.1,674.5 L475.9,673.2 L478.7,671.9 L481.5,670.5 L484.3,669.2 L487.2,667.9 L490.0,666.5 L492.9,665.2 L495.7,663.9 L498.6,662.6 L501.5,661.3 L504.4,660.0 L507.3,658.8 L510.2,657.5 L513.1,656.3 L516.0,655.1 L519.0,654.0 L521.9,652.8 L524.8,651.7 L527.7,650.7 L530.6,649.7 L533.5,648.7 L536.4,647.8 L539.6,646.8 L542.8,645.8 L546.1,644.9 L549.3,643.9 L552.6,643.0 L555.9,642.2 L559.2,641.3 L562.5,640.5 L565.8,639.7 L569.1,639.0 L572.4,638.3 L575.6,637.7 L578.8,637.1 L582.0,636.6 L585.1,636.2 L588.2,635.8 L591.2,635.5 L594.1,635.2 L597.1,635.1 L599.9,635.0 L603.8,635.0 L607.6,635.2 L611.3,635.5 L615.0,635.9 L618.6,636.6 L622.1,637.4 L625.6,638.5 L629.0,639.7 L632.4,641.3 L635.9,643.2 L639.3,645.5 L642.3,647.9 L645.0,650.4 L647.6,652.9 L649.9,655.4 L652.1,657.8 L654.2,660.3 L656.5,663.1 L658.7,666.1 L660.6,669.1 L662.3,671.9 L664.0,674.5 L665.5,677.0 L667.1,679.5" fill="none" stroke="#1a1a1a" stroke-width="1.6" stroke-linejoin="round"/>
<path d="M765.2,164.7 L762.3,166.4 L759.6,168.1 L757.0,169.7 L753.8,171.3 L752.1,172.1 L749.9,173.1 L747.4,174.1 L744.7,175.2 L741.8,176.4 L738.8,177.6 L735.6,178.8 L732.5,180.1 L729.3,181.5 L726.2,182.9 L723.1,184.4 L720.2,185.9 L716.9,187.7 L713.8,189.6 L710.6,191.5 L707.5,193.6 L704.4,195.8 L701.4,198.1 L698.5,200.6 L695.7,203.4 L692.7,206.7 L690.1,210.2 L687.7,213.9 L685.6,217.5 L683.8,221.2 L682.2,224.9 L680.8,228.9 L679.8,232.9 L679.0,236.9 L678.6,240.9 L678.4,244.8 L678.4,248.6 L678.7,252.4 L679.3,256.5 L680.2,260.6 L681.5,264.5 L682.8,267.7 L684.3,270.9 L686.0,274.3 L688.1,277.8 L690.6,281.2 L693.7,284.6 L697.2,287.6 L700.7,289.9 L704.2,291.7 L707.9,293.3 L711.6,294.6 L715.5,295.7 L719.3,296.6 L723.2,297.4 L727.1,298.0 L731.0,298.4 L734.8,298.8 L738.3,298.9 L741.9,298.8 L745.3,298.6 L748.7,298.2 L752.1,297.7 L755.3,297.1 L758.6,296.5 L761.7,295.9 L764.8,295.3 L767.9,294.7 L770.8,294.1 L773.7,293.7 L776.5,293.3 L779.3,292.9 L782.3,292.6 L785.6,292.3 L788.8,292.0 L792.0,291.6 L795.2,291.3 L798.4,291.0 L801.5,290.8 L804.6,290.6 L807.6,290.4 L810.5,290.3 L813.3,290.2 L816.0,290.2 L818.6,290.3 L821.0,290.5 L824.1,290.8 L827.1,291.1 L830.0,291.6 L832.8,292.1 L835.4,292.7 L838.0,293.4 L840.4,294.2 L842.8,295.0 L845.2,296.0 L847.7,297.2 L850.3,298.5 L852.8,300.0 L855.2,301.5 L857.5,303.1 L859.6,304.8 L861.5,306.5 L863.3,308.2 L865.0,310.2 L866.7,312.3 L868.2,314.6 L869.6,316.9 L870.8,319.2 L871.8,321.4 L872.5,323.4 L873.1,325.6 L873.4,327.9 L873.6,330.3 L873.6,332.9 L873.4,335.6 L873.1,338.4 L872.7,341.0 L872.2,343.6 L871.5,346.2 L870.6,348.9 L869.7,351.5 L868.6,354.0 L867.4,356.4 L866.2,358.6 L864.7,360.8 L863.2,363.1 L861.5,365.2 L859.8,367.3 L858.0,369.3 L856.1,371.2 L854.3,372.8 L852.4,374.3 L850.3,375.8 L848.0,377.2 L845.6,378.6 L843.2,379.8 L840.8,380.9 L838.5,381.8 L836.4,382.6 L834.1,383.2 L832.0,383.7 L830.0,384.0 L827.9,384.1 L825.5,384.2 L822.9,384.0 L821.0,383.8 L818.8,383.5 L816.4,382.9 L813.8,382.3 L810.9,381.5 L808.0,380.6 L804.9,379.7 L801.8,378.7 L798.6,377.7 L795.3,376.8 L792.2,375.9 L789.2,375.1 L786.2,374.2 L783.1,373.3 L779.9,372.3 L776.7,371.3 L773.4,370.3 L770.1,369.4 L766.8,368.5 L763.6,367.8 L760.3,367.2 L757.1,366.7 L752.7,366.5 L748.3,366.6 L744.1,367.2 L739.8,368.2 L736.6,369.1 L733.5,370.3 L730.4,371.5 L727.3,372.9 L724.1,374.4 L721.0,376.0 L717.9,377.5 L714.8,379.1 L711.9,380.6 L709.2,382.0 L706.5,383.3 L703.5,384.9 L700.5,386.4 L697.7,388.0 L694.9,389.5 L692.2,391.0 L689.5,392.5 L686.9,394.0 L684.2,395.5 L695.8,416.5 L698.5,415.0 L701.3,413.5 L703.9,412.0 L706.6,410.5 L709.2,409.0 L711.9,407.6 L714.6,406.2 L717.5,404.7 L720.1,403.3 L722.9,401.9 L725.8,400.4 L728.7,398.9 L731.6,397.4 L734.5,396.1 L737.2,394.8 L739.8,393.6 L742.2,392.6 L744.2,391.9 L745.8,391.4 L748.5,390.8 L750.3,390.5 L752.2,390.5 L754.9,390.7 L756.6,390.9 L758.6,391.3 L761.1,391.8 L763.7,392.5 L766.6,393.4 L769.7,394.3 L772.8,395.2 L776.1,396.2 L779.4,397.2 L782.7,398.2 L785.8,399.1 L788.8,399.9 L791.7,400.7 L794.7,401.7 L797.9,402.6 L801.1,403.6 L804.3,404.6 L807.6,405.5 L811.0,406.3 L814.3,407.0 L817.7,407.6 L821.1,408.0 L825.1,408.2 L828.9,408.1 L832.6,407.8 L836.3,407.3 L840.0,406.5 L843.6,405.4 L846.9,404.3 L850.3,402.9 L853.7,401.4 L857.0,399.7 L860.3,397.8 L863.6,395.8 L866.7,393.6 L869.7,391.2 L872.6,388.6 L875.3,385.9 L877.9,383.1 L880.3,380.2 L882.6,377.1 L884.8,374.0 L886.8,370.9 L888.6,367.6 L890.4,364.1 L892.0,360.4 L893.4,356.6 L894.5,352.9 L895.5,349.1 L896.3,345.3 L896.9,341.6 L897.3,337.6 L897.6,333.6 L897.6,329.5 L897.2,325.2 L896.6,320.9 L895.5,316.6 L894.1,312.6 L892.5,308.8 L890.6,305.1 L888.4,301.6 L886.0,298.1 L883.5,294.9 L880.7,291.8 L877.9,289.0 L875.0,286.4 L871.9,283.9 L868.6,281.6 L865.3,279.5 L861.8,277.5 L858.4,275.7 L854.8,274.0 L851.5,272.6 L848.1,271.4 L844.6,270.3 L841.2,269.4 L837.6,268.6 L834.1,267.9 L830.4,267.4 L826.8,266.9 L823.0,266.5 L819.8,266.3 L816.5,266.2 L813.1,266.2 L809.8,266.3 L806.4,266.4 L803.0,266.6 L799.7,266.8 L796.3,267.1 L792.9,267.4 L789.6,267.8 L786.3,268.1 L783.1,268.4 L779.9,268.7 L776.7,269.1 L773.4,269.5 L770.0,270.0 L766.6,270.5 L763.4,271.1 L760.2,271.8 L757.1,272.4 L754.0,273.0 L751.1,273.5 L748.3,274.0 L745.6,274.4 L743.1,274.7 L740.7,274.8 L738.5,274.9 L736.4,274.8 L733.4,274.6 L730.3,274.2 L727.3,273.7 L724.4,273.2 L721.6,272.5 L718.9,271.7 L716.5,270.9 L714.5,270.0 L712.8,269.2 L711.6,268.4 L710.4,267.4 L709.2,266.1 L708.1,264.5 L707.0,262.6 L705.9,260.5 L704.9,258.3 L704.1,256.3 L703.3,254.1 L702.9,252.1 L702.6,249.9 L702.4,247.6 L702.4,245.2 L702.5,242.8 L702.8,240.4 L703.2,238.1 L703.8,235.8 L704.6,233.5 L705.6,231.2 L706.8,228.8 L708.1,226.4 L709.7,224.1 L711.3,221.9 L713.1,219.8 L714.7,218.3 L716.6,216.7 L718.6,215.1 L720.9,213.5 L723.4,211.8 L726.1,210.2 L728.9,208.5 L731.8,206.9 L733.9,205.8 L736.3,204.6 L738.9,203.4 L741.7,202.3 L744.6,201.1 L747.6,199.9 L750.6,198.7 L753.6,197.5 L756.5,196.4 L759.4,195.2 L762.1,194.0 L764.8,192.7 L768.6,190.6 L771.9,188.7 L774.7,187.0 L777.6,185.3Z" fill="#fff" stroke="none"/>
<path d="M765.2,164.7 L762.3,166.4 L759.6,168.1 L757.0,169.7 L753.8,171.3 L752.1,172.1 L749.9,173.1 L747.4,174.1 L744.7,175.2 L741.8,176.4 L738.8,177.6 L735.6,178.8 L732.5,180.1 L729.3,181.5 L726.2,182.9 L723.1,184.4 L720.2,185.9 L716.9,187.7 L713.8,189.6 L710.6,191.5 L707.5,193.6 L704.4,195.8 L701.4,198.1 L698.5,200.6 L695.7,203.4 L692.7,206.7 L690.1,210.2 L687.7,213.9 L685.6,217.5 L683.8,221.2 L682.2,224.9 L680.8,228.9 L679.8,232.9 L679.0,236.9 L678.6,240.9 L678.4,244.8 L678.4,248.6 L678.7,252.4 L679.3,256.5 L680.2,260.6 L681.5,264.5 L682.8,267.7 L684.3,270.9 L686.0,274.3 L688.1,277.8 L690.6,281.2 L693.7,284.6 L697.2,287.6 L700.7,289.9 L704.2,291.7 L707.9,293.3 L711.6,294.6 L715.5,295.7 L719.3,296.6 L723.2,297.4 L727.1,298.0 L731.0,298.4 L734.8,298.8 L738.3,298.9 L741.9,298.8 L745.3,298.6 L748.7,298.2 L752.1,297.7 L755.3,297.1 L758.6,296.5 L761.7,295.9 L764.8,295.3 L767.9,294.7 L770.8,294.1 L773.7,293.7 L776.5,293.3 L779.3,292.9 L782.3,292.6 L785.6,292.3 L788.8,292.0 L792.0,291.6 L795.2,291.3 L798.4,291.0 L801.5,290.8 L804.6,290.6 L807.6,290.4 L810.5,290.3 L813.3,290.2 L816.0,290.2 L818.6,290.3 L821.0,290.5 L824.1,290.8 L827.1,291.1 L830.0,291.6 L832.8,292.1 L835.4,292.7 L838.0,293.4 L840.4,294.2 L842.8,295.0 L845.2,296.0 L847.7,297.2 L850.3,298.5 L852.8,300.0 L855.2,301.5 L857.5,303.1 L859.6,304.8 L861.5,306.5 L863.3,308.2 L865.0,310.2 L866.7,312.3 L868.2,314.6 L869.6,316.9 L870.8,319.2 L871.8,321.4 L872.5,323.4 L873.1,325.6 L873.4,327.9 L873.6,330.3 L873.6,332.9 L873.4,335.6 L873.1,338.4 L872.7,341.0 L872.2,343.6 L871.5,346.2 L870.6,348.9 L869.7,351.5 L868.6,354.0 L867.4,356.4 L866.2,358.6 L864.7,360.8 L863.2,363.1 L861.5,365.2 L859.8,367.3 L858.0,369.3 L856.1,371.2 L854.3,372.8 L852.4,374.3 L850.3,375.8 L848.0,377.2 L845.6,378.6 L843.2,379.8 L840.8,380.9 L838.5,381.8 L836.4,382.6 L834.1,383.2 L832.0,383.7 L830.0,384.0 L827.9,384.1 L825.5,384.2 L822.9,384.0 L821.0,383.8 L818.8,383.5 L816.4,382.9 L813.8,382.3 L810.9,381.5 L808.0,380.6 L804.9,379.7 L801.8,378.7 L798.6,377.7 L795.3,376.8 L792.2,375.9 L789.2,375.1 L786.2,374.2 L783.1,373.3 L779.9,372.3 L776.7,371.3 L773.4,370.3 L770.1,369.4 L766.8,368.5 L763.6,367.8 L760.3,367.2 L757.1,366.7 L752.7,366.5 L748.3,366.6 L744.1,367.2 L739.8,368.2 L736.6,369.1 L733.5,370.3 L730.4,371.5 L727.3,372.9 L724.1,374.4 L721.0,376.0 L717.9,377.5 L714.8,379.1 L711.9,380.6 L709.2,382.0 L706.5,383.3 L703.5,384.9 L700.5,386.4 L697.7,388.0 L694.9,389.5 L692.2,391.0 L689.5,392.5 L686.9,394.0 L684.2,395.5" fill="none" stroke="#1a1a1a" stroke-width="1.15" stroke-linejoin="round"/>
<path d="M777.6,185.3 L774.7,187.0 L771.9,188.7 L768.6,190.6 L764.8,192.7 L762.1,194.0 L759.4,195.2 L756.5,196.4 L753.6,197.5 L750.6,198.7 L747.6,199.9 L744.6,201.1 L741.7,202.3 L738.9,203.4 L736.3,204.6 L733.9,205.8 L731.8,206.9 L728.9,208.5 L726.1,210.2 L723.4,211.8 L720.9,213.5 L718.6,215.1 L716.6,216.7 L714.7,218.3 L713.1,219.8 L711.3,221.9 L709.7,224.1 L708.1,226.4 L706.8,228.8 L705.6,231.2 L704.6,233.5 L703.8,235.8 L703.2,238.1 L702.8,240.4 L702.5,242.8 L702.4,245.2 L702.4,247.6 L702.6,249.9 L702.9,252.1 L703.3,254.1 L704.1,256.3 L704.9,258.3 L705.9,260.5 L707.0,262.6 L708.1,264.5 L709.2,266.1 L710.4,267.4 L711.6,268.4 L712.8,269.2 L714.5,270.0 L716.5,270.9 L718.9,271.7 L721.6,272.5 L724.4,273.2 L727.3,273.7 L730.3,274.2 L733.4,274.6 L736.4,274.8 L738.5,274.9 L740.7,274.8 L743.1,274.7 L745.6,274.4 L748.3,274.0 L751.1,273.5 L754.0,273.0 L757.1,272.4 L760.2,271.8 L763.4,271.1 L766.6,270.5 L770.0,270.0 L773.4,269.5 L776.7,269.1 L779.9,268.7 L783.1,268.4 L786.3,268.1 L789.6,267.8 L792.9,267.4 L796.3,267.1 L799.7,266.8 L803.0,266.6 L806.4,266.4 L809.8,266.3 L813.1,266.2 L816.5,266.2 L819.8,266.3 L823.0,266.5 L826.8,266.9 L830.4,267.4 L834.1,267.9 L837.6,268.6 L841.2,269.4 L844.6,270.3 L848.1,271.4 L851.5,272.6 L854.8,274.0 L858.4,275.7 L861.8,277.5 L865.3,279.5 L868.6,281.6 L871.9,283.9 L875.0,286.4 L877.9,289.0 L880.7,291.8 L883.5,294.9 L886.0,298.1 L888.4,301.6 L890.6,305.1 L892.5,308.8 L894.1,312.6 L895.5,316.6 L896.6,320.9 L897.2,325.2 L897.6,329.5 L897.6,333.6 L897.3,337.6 L896.9,341.6 L896.3,345.3 L895.5,349.1 L894.5,352.9 L893.4,356.6 L892.0,360.4 L890.4,364.1 L888.6,367.6 L886.8,370.9 L884.8,374.0 L882.6,377.1 L880.3,380.2 L877.9,383.1 L875.3,385.9 L872.6,388.6 L869.7,391.2 L866.7,393.6 L863.6,395.8 L860.3,397.8 L857.0,399.7 L853.7,401.4 L850.3,402.9 L846.9,404.3 L843.6,405.4 L840.0,406.5 L836.3,407.3 L832.6,407.8 L828.9,408.1 L825.1,408.2 L821.1,408.0 L817.7,407.6 L814.3,407.0 L811.0,406.3 L807.6,405.5 L804.3,404.6 L801.1,403.6 L797.9,402.6 L794.7,401.7 L791.7,400.7 L788.8,399.9 L785.8,399.1 L782.7,398.2 L779.4,397.2 L776.1,396.2 L772.8,395.2 L769.7,394.3 L766.6,393.4 L763.7,392.5 L761.1,391.8 L758.6,391.3 L756.6,390.9 L754.9,390.7 L752.2,390.5 L750.3,390.5 L748.5,390.8 L745.8,391.4 L744.2,391.9 L742.2,392.6 L739.8,393.6 L737.2,394.8 L734.5,396.1 L731.6,397.4 L728.7,398.9 L725.8,400.4 L722.9,401.9 L720.1,403.3 L717.5,404.7 L714.6,406.2 L711.9,407.6 L709.2,409.0 L706.6,410.5 L703.9,412.0 L701.3,413.5 L698.5,415.0 L695.8,416.5" fill="none" stroke="#1a1a1a" stroke-width="1.6" stroke-linejoin="round"/>
<path d="M369.0,359.5 L507.0,439.0" fill="none" stroke="#222" stroke-width="1.25" stroke-dasharray="7,2.4,0.8,2.4"/>
<path d="M448.0,513.0 L480.0,497.0" fill="none" stroke="#222" stroke-width="1.25" stroke-dasharray="7,2.4,0.8,2.4"/>
<path d="M333.0,547.0 L362.0,531.0 L392.0,547.0 L418.0,533.0" fill="none" stroke="#222" stroke-width="1.25" stroke-dasharray="7,2.4,0.8,2.4"/>
<path d="M388.0,580.0 L418.0,564.0" fill="none" stroke="#222" stroke-width="1.25" stroke-dasharray="7,2.4,0.8,2.4"/>
<path d="M447.0,545.0 L474.0,531.0" fill="none" stroke="#222" stroke-width="1.25" stroke-dasharray="7,2.4,0.8,2.4"/>
<path d="M443.0,595.0 L472.0,579.0" fill="none" stroke="#222" stroke-width="1.25" stroke-dasharray="7,2.4,0.8,2.4"/>
<path d="M596.0,504.0 L619.6,492.3 L718.4,548.2 L734.0,539.0" fill="none" stroke="#222" stroke-width="1.25" stroke-dasharray="7,2.4,0.8,2.4"/>
<path d="M583.0,466.3 L602.7,455.9" fill="none" stroke="#222" stroke-width="1.25" stroke-dasharray="7,2.4,0.8,2.4"/>
<path d="M632.6,439.0 L641.7,432.5" fill="none" stroke="#222" stroke-width="1.25" stroke-dasharray="7,2.4,0.8,2.4"/>
<path d="M826.0,142.0 L833.0,138.0" fill="none" stroke="#222" stroke-width="1.25" stroke-dasharray="7,2.4,0.8,2.4"/>
<path d="M884.0,110.0 L892.0,105.0" fill="none" stroke="#222" stroke-width="1.25" stroke-dasharray="7,2.4,0.8,2.4"/>
<path d="M303.50,557.33 L304.34,547.93 L317.38,540.52 L325.88,544.61 L333.54,558.08 L332.70,567.47 L319.66,574.88 L311.16,570.80Z" fill="#fff" stroke="#1a1a1a" stroke-width="1.2" stroke-linejoin="round"/>
<path d="M319.66,574.88 L332.70,567.47 M320.49,565.49 L333.53,558.08 M312.83,552.02 L325.87,544.60 M304.34,547.93 L317.38,540.52 " fill="none" stroke="#1a1a1a" stroke-width="1.2"/>
<path d="M319.66,574.88 L320.49,565.49 L312.83,552.02 L304.34,547.93 L303.50,557.32 L311.16,570.80Z" fill="#fff" stroke="#1a1a1a" stroke-width="1.2" stroke-linejoin="round"/>
<ellipse cx="312.00" cy="561.41" rx="13.33" ry="5.33" transform="rotate(60.38 312.00 561.41)" fill="none" stroke="#1a1a1a" stroke-width="0.96"/>
<path d="M311.97,573.50 L317.19,570.54 A10.50,4.20 60.38 0 0 306.81,552.28 L301.59,555.25 A10.50,4.20 60.38 0 0 311.97,573.50Z" fill="#fff" stroke="#1a1a1a" stroke-width="1.2" stroke-linejoin="round"/>
<ellipse cx="306.78" cy="564.37" rx="10.50" ry="4.20" transform="rotate(60.38 306.78 564.37)" fill="#fff" stroke="#1a1a1a" stroke-width="1.2"/>
<path d="M288.85,593.54 L314.93,578.72 A16.50,6.60 60.38 0 0 298.63,550.03 L272.55,564.86 A16.50,6.60 60.38 0 0 288.85,593.54Z" fill="#fff" stroke="#1a1a1a" stroke-width="1.2" stroke-linejoin="round"/>
<ellipse cx="280.70" cy="579.20" rx="16.50" ry="6.60" transform="rotate(60.38 280.70 579.20)" fill="#fff" stroke="#1a1a1a" stroke-width="1.2"/>
<path d="M278.81,594.08 L286.63,589.63 A12.00,4.80 60.38 0 0 274.77,568.77 L266.95,573.22 Z" fill="#fff" stroke="none"/>
<path d="M278.81,594.08 L286.63,589.63 A12.00,4.80 60.38 0 0 274.77,568.77 L266.95,573.22" fill="none" stroke="#1a1a1a" stroke-width="1.2"/>
<path d="M358.73,589.55 L359.54,580.16 L372.56,572.71 L381.07,576.76 L388.77,590.22 L387.96,599.61 L374.94,607.06 L366.43,603.00Z" fill="#fff" stroke="#1a1a1a" stroke-width="1.2" stroke-linejoin="round"/>
<path d="M374.94,607.06 L387.96,599.61 M375.75,597.67 L388.77,590.22 M368.05,584.22 L381.07,576.76 M359.54,580.16 L372.56,572.71 " fill="none" stroke="#1a1a1a" stroke-width="1.2"/>
<path d="M374.94,607.06 L375.75,597.67 L368.05,584.22 L359.54,580.16 L358.73,589.55 L366.43,603.01Z" fill="#fff" stroke="#1a1a1a" stroke-width="1.2" stroke-linejoin="round"/>
<ellipse cx="367.24" cy="593.61" rx="13.33" ry="5.33" transform="rotate(60.21 367.24 593.61)" fill="none" stroke="#1a1a1a" stroke-width="0.96"/>
<path d="M367.25,605.71 L372.46,602.72 A10.50,4.20 60.21 0 0 362.02,584.50 L356.82,587.48 A10.50,4.20 60.21 0 0 367.25,605.71Z" fill="#fff" stroke="#1a1a1a" stroke-width="1.2" stroke-linejoin="round"/>
<ellipse cx="362.03" cy="596.59" rx="10.50" ry="4.20" transform="rotate(60.21 362.03 596.59)" fill="#fff" stroke="#1a1a1a" stroke-width="1.2"/>
<path d="M344.20,625.82 L370.23,610.91 A16.50,6.60 60.21 0 0 353.84,582.27 L327.80,597.18 A16.50,6.60 60.21 0 0 344.20,625.82Z" fill="#fff" stroke="#1a1a1a" stroke-width="1.2" stroke-linejoin="round"/>
<ellipse cx="336.00" cy="611.50" rx="16.50" ry="6.60" transform="rotate(60.21 336.00 611.50)" fill="#fff" stroke="#1a1a1a" stroke-width="1.2"/>
<path d="M334.15,626.39 L341.96,621.91 A12.00,4.80 60.21 0 0 330.04,601.09 L322.23,605.56 Z" fill="#fff" stroke="none"/>
<path d="M334.15,626.39 L341.96,621.91 A12.00,4.80 60.21 0 0 330.04,601.09 L322.23,605.56" fill="none" stroke="#1a1a1a" stroke-width="1.2"/>
<path d="M414.30,603.22 L415.10,593.83 L428.10,586.36 L436.62,590.40 L444.34,603.84 L443.54,613.24 L430.54,620.71 L422.02,616.66Z" fill="#fff" stroke="#1a1a1a" stroke-width="1.2" stroke-linejoin="round"/>
<path d="M430.54,620.71 L443.54,613.24 M431.33,611.32 L444.34,603.84 M423.61,597.87 L436.62,590.40 M415.10,593.83 L428.10,586.36 " fill="none" stroke="#1a1a1a" stroke-width="1.2"/>
<path d="M430.54,620.71 L431.33,611.32 L423.61,597.87 L415.10,593.83 L414.30,603.22 L422.02,616.66Z" fill="#fff" stroke="#1a1a1a" stroke-width="1.2" stroke-linejoin="round"/>
<ellipse cx="422.82" cy="607.27" rx="13.33" ry="5.33" transform="rotate(60.13 422.82 607.27)" fill="none" stroke="#1a1a1a" stroke-width="0.96"/>
<path d="M422.84,619.36 L428.05,616.37 A10.50,4.20 60.13 0 0 417.59,598.16 L412.38,601.15 A10.50,4.20 60.13 0 0 422.84,619.36Z" fill="#fff" stroke="#1a1a1a" stroke-width="1.2" stroke-linejoin="round"/>
<ellipse cx="417.61" cy="610.26" rx="10.50" ry="4.20" transform="rotate(60.13 417.61 610.26)" fill="#fff" stroke="#1a1a1a" stroke-width="1.2"/>
<path d="M399.82,639.51 L425.83,624.57 A16.50,6.60 60.13 0 0 409.40,595.95 L383.38,610.89 A16.50,6.60 60.13 0 0 399.82,639.51Z" fill="#fff" stroke="#1a1a1a" stroke-width="1.2" stroke-linejoin="round"/>
<ellipse cx="391.60" cy="625.20" rx="16.50" ry="6.60" transform="rotate(60.13 391.60 625.20)" fill="#fff" stroke="#1a1a1a" stroke-width="1.2"/>
<path d="M389.77,640.09 L397.58,635.61 A12.00,4.80 60.13 0 0 385.62,614.79 L377.82,619.28 Z" fill="#fff" stroke="none"/>
<path d="M389.77,640.09 L397.58,635.61 A12.00,4.80 60.13 0 0 385.62,614.79 L377.82,619.28" fill="none" stroke="#1a1a1a" stroke-width="1.2"/>
<path d="M30.55,895.66 L34.69,889.48 L50.14,887.82 L61.45,892.34 L61.45,903.34 L57.31,909.52 L41.86,911.18 L30.55,906.66Z" fill="#fff" stroke="#1a1a1a" stroke-width="1.2" stroke-linejoin="round"/>
<path d="M41.86,900.18 L41.86,911.18 M57.31,898.53 L57.31,909.53 M30.55,895.66 L30.55,906.66 " fill="none" stroke="#1a1a1a" stroke-width="1.2"/>
<path d="M41.86,900.18 L57.31,898.53 L61.45,892.34 L50.14,887.82 L34.69,889.47 L30.55,895.66Z" fill="#fff" stroke="#1a1a1a" stroke-width="1.2" stroke-linejoin="round"/>
<ellipse cx="46.00" cy="892.50" rx="13.00" ry="5.20" transform="rotate(180.00 46.00 892.50)" fill="#fff" stroke="#1a1a1a" stroke-width="1.1"/>
<ellipse cx="46.00" cy="891.50" rx="10.00" ry="4.00" transform="rotate(180.00 46.00 891.50)" fill="none" stroke="#1a1a1a" stroke-width="0.9"/>
<path d="M29.30,853.50 L29.30,881.50 A16.20,6.48 180.00 0 0 61.70,881.50 L61.70,853.50 A16.20,6.48 180.00 0 0 29.30,853.50Z" fill="#fff" stroke="#1a1a1a" stroke-width="1.2" stroke-linejoin="round"/>
<ellipse cx="45.50" cy="853.50" rx="16.20" ry="6.48" transform="rotate(180.00 45.50 853.50)" fill="#fff" stroke="#1a1a1a" stroke-width="1.2"/>
<path d="M33.50,844.50 L33.50,853.50 A12.00,4.80 180.00 0 0 57.50,853.50 L57.50,844.50 Z" fill="#fff" stroke="none"/>
<path d="M33.50,844.50 L33.50,853.50 A12.00,4.80 180.00 0 0 57.50,853.50 L57.50,844.50" fill="none" stroke="#1a1a1a" stroke-width="1.2"/>
<path d="M96.05,923.66 L100.19,917.48 L115.64,915.82 L126.95,920.34 L126.95,930.34 L122.81,936.52 L107.36,938.18 L96.05,933.66Z" fill="#fff" stroke="#1a1a1a" stroke-width="1.2" stroke-linejoin="round"/>
<path d="M107.36,928.18 L107.36,938.18 M122.81,926.53 L122.81,936.53 M96.05,923.66 L96.05,933.66 " fill="none" stroke="#1a1a1a" stroke-width="1.2"/>
<path d="M107.36,928.18 L122.81,926.53 L126.95,920.34 L115.64,915.82 L100.19,917.47 L96.05,923.66Z" fill="#fff" stroke="#1a1a1a" stroke-width="1.2" stroke-linejoin="round"/>
<ellipse cx="111.50" cy="920.50" rx="13.00" ry="5.20" transform="rotate(180.00 111.50 920.50)" fill="#fff" stroke="#1a1a1a" stroke-width="1.1"/>
<ellipse cx="111.50" cy="919.50" rx="10.00" ry="4.00" transform="rotate(180.00 111.50 919.50)" fill="none" stroke="#1a1a1a" stroke-width="0.9"/>
<path d="M94.80,880.00 L94.80,909.50 A16.20,6.48 180.00 0 0 127.20,909.50 L127.20,880.00 A16.20,6.48 180.00 0 0 94.80,880.00Z" fill="#fff" stroke="#1a1a1a" stroke-width="1.2" stroke-linejoin="round"/>
<ellipse cx="111.00" cy="880.00" rx="16.20" ry="6.48" transform="rotate(180.00 111.00 880.00)" fill="#fff" stroke="#1a1a1a" stroke-width="1.2"/>
<path d="M99.00,871.00 L99.00,880.00 A12.00,4.80 180.00 0 0 123.00,880.00 L123.00,871.00 Z" fill="#fff" stroke="none"/>
<path d="M99.00,871.00 L99.00,880.00 A12.00,4.80 180.00 0 0 123.00,880.00 L123.00,871.00" fill="none" stroke="#1a1a1a" stroke-width="1.2"/>
<path d="M344.2,390.1 L391,364.1 Q395.6,362.5 396.9,366.7 L397.5,407 L374.1,422 L344.2,408 Z" fill="#fff" stroke="#1a1a1a" stroke-width="1.2" stroke-linejoin="round" stroke-linecap="round"/>
<path d="M344.9,392.7 L393,367.4" fill="none" stroke="#1a1a1a" stroke-width="1.0" stroke-linejoin="round" stroke-linecap="round"/>
<ellipse cx="372" cy="398.5" rx="10.5" ry="17" transform="rotate(22 372 398.5)" fill="#fff" stroke="#1a1a1a" stroke-width="1.2"/>
<ellipse cx="391" cy="373.2" rx="2.2" ry="3.2" transform="rotate(20 391 373.2)" fill="#fff" stroke="#1a1a1a" stroke-width="1.1"/>
<ellipse cx="391" cy="407" rx="2.2" ry="3.2" transform="rotate(20 391 407)" fill="#fff" stroke="#1a1a1a" stroke-width="1.1"/>
<path d="M260.5,434.5 L260,453.5 Q260.5,455.5 263,455 L286,451.5 Z" fill="#fff" stroke="#1a1a1a" stroke-width="1.2" stroke-linejoin="round" stroke-linecap="round"/>
<path d="M262.8,439 L262.8,453" fill="none" stroke="#1a1a1a" stroke-width="1.0" stroke-linejoin="round" stroke-linecap="round"/>
<path d="M260.5,434.5 L335.1,391.4 Q339,389.5 342.3,392 L366.3,408.3 L385.8,451.2 Q387.5,458 380.6,463 L355.9,475.9 Q349.4,478.5 336.4,474.6 L262,437 Q259,435.5 260.5,434.5 Z" fill="#fff" stroke="#1a1a1a" stroke-width="1.3" stroke-linejoin="round" stroke-linecap="round"/>
<path d="M264,435.2 L336.4,472.6 Q349.4,476 355.9,473.7 L380.6,461 Q385.5,457 385,451" fill="none" stroke="#1a1a1a" stroke-width="0.9" stroke-linejoin="round" stroke-linecap="round"/>
<ellipse cx="301.8" cy="428.2" rx="6.3" ry="3.6" fill="#fff" stroke="#1a1a1a" stroke-width="1.2"/>
<path d="M296.5,429.5 A5.5,3 0 0 1 307,429.5" fill="none" stroke="#1a1a1a" stroke-width="0.9"/>
<ellipse cx="354.6" cy="459" rx="6.3" ry="3.6" fill="#fff" stroke="#1a1a1a" stroke-width="1.2"/>
<path d="M349.3,460.3 A5.5,3 0 0 1 359.8,460.3" fill="none" stroke="#1a1a1a" stroke-width="0.9"/>
<path d="M308,448.5 Q309,442 315,439 L337,431.5 Q347,429 348.8,437.5 Q348,443 343,446 L325,455 Q312,458 308,448.5 Z" fill="#fff" stroke="#1a1a1a" stroke-width="1.3" stroke-linejoin="round" stroke-linecap="round"/>
<path d="M308.5,448 L348.5,438" fill="none" stroke="#1a1a1a" stroke-width="0.9" stroke-linejoin="round" stroke-linecap="round"/>
<path d="M356.80,358.79 L365.68,363.38 A3.70,2.04 117.35 0 0 369.08,356.81 L360.20,352.21 A3.70,2.04 117.35 0 0 356.80,358.79Z" fill="#fff" stroke="#1a1a1a" stroke-width="1.2" stroke-linejoin="round"/>
<ellipse cx="358.50" cy="355.50" rx="3.70" ry="2.04" transform="rotate(117.35 358.50 355.50)" fill="#fff" stroke="#1a1a1a" stroke-width="1.2"/>
<path d="M366.5,358.5 L370.5,361.2" fill="none" stroke="#1a1a1a" stroke-width="1.4"/>
<path d="M351,348 L356,346 L361,348.5 L362.5,354 L359,359.5 L354,360.5 L350,357 Z" fill="#fff" stroke="#1a1a1a" stroke-width="1.3" stroke-linejoin="round"/>
<ellipse cx="357.5" cy="354.5" rx="4.8" ry="6.2" transform="rotate(25 357.5 354.5)" fill="#fff" stroke="#1a1a1a" stroke-width="1.2"/>
<path d="M352,349 L354.5,352" fill="none" stroke="#1a1a1a" stroke-width="0.9"/>
<path d="M357.85,359.20 L365.84,363.33 A3.60,1.98 117.35 0 0 369.15,356.94 L361.15,352.80 A3.60,1.98 117.35 0 0 357.85,359.20Z" fill="#fff" stroke="#1a1a1a" stroke-width="1.2" stroke-linejoin="round"/>
<path d="M473.40,464.60 L540.20,501.80 L595.40,470.60 L528.60,433.40Z" fill="#fff" stroke="#1a1a1a" stroke-width="1.2" stroke-linejoin="round"/>
<path d="M473.40,464.60 L540.20,501.80 L540.20,566.00 L473.60,528.80Z" fill="#fff" stroke="#1a1a1a" stroke-width="1.2" stroke-linejoin="round"/>
<path d="M540.20,501.80 L595.40,470.60 L596.00,534.00 L540.20,566.00Z" fill="#fff" stroke="#1a1a1a" stroke-width="1.2" stroke-linejoin="round"/>
<ellipse cx="0" cy="0" rx="13.5" ry="13.5" transform="matrix(0.6200,0.3450,0.0000,0.9000,487.20,492.20)" fill="#fff" stroke="#1a1a1a" stroke-width="1.606"/>
<ellipse cx="0" cy="0" rx="10.2" ry="10.2" transform="matrix(0.6200,0.3450,0.0000,0.9000,487.50,491.90)" fill="#fff" stroke="#1a1a1a" stroke-width="2.544"/>
<ellipse cx="0" cy="0" rx="8.3" ry="8.3" transform="matrix(0.6200,0.3450,0.0000,0.9000,487.70,491.70)" fill="#fff" stroke="#1a1a1a" stroke-width="1.205"/>
<path d="M485.2,493.7 L489.7,491.7" stroke="#1a1a1a" stroke-width="1.1"/>
<ellipse cx="0" cy="0" rx="13.5" ry="13.5" transform="matrix(0.6200,0.3450,0.0000,0.9000,487.20,523.40)" fill="#fff" stroke="#1a1a1a" stroke-width="1.606"/>
<ellipse cx="0" cy="0" rx="10.2" ry="10.2" transform="matrix(0.6200,0.3450,0.0000,0.9000,487.50,523.10)" fill="#fff" stroke="#1a1a1a" stroke-width="2.544"/>
<ellipse cx="0" cy="0" rx="8.3" ry="8.3" transform="matrix(0.6200,0.3450,0.0000,0.9000,487.70,522.90)" fill="#fff" stroke="#1a1a1a" stroke-width="1.205"/>
<path d="M485.2,524.9 L489.7,522.9" stroke="#1a1a1a" stroke-width="1.1"/>
<ellipse cx="0" cy="0" rx="13.5" ry="13.5" transform="matrix(0.6200,0.3450,0.0000,0.9000,526.20,522.80)" fill="#fff" stroke="#1a1a1a" stroke-width="1.606"/>
<ellipse cx="0" cy="0" rx="10.2" ry="10.2" transform="matrix(0.6200,0.3450,0.0000,0.9000,526.50,522.50)" fill="#fff" stroke="#1a1a1a" stroke-width="2.544"/>
<ellipse cx="0" cy="0" rx="8.3" ry="8.3" transform="matrix(0.6200,0.3450,0.0000,0.9000,526.70,522.30)" fill="#fff" stroke="#1a1a1a" stroke-width="1.205"/>
<path d="M524.2,524.3 L528.7,522.3" stroke="#1a1a1a" stroke-width="1.1"/>
<path d="M503.0,553.5 L533.5,543.0 L513.0,530.5 L517.0,528.3" fill="none" stroke="#222" stroke-width="1.25" stroke-dasharray="7,2.4,0.8,2.4"/>
<ellipse cx="0" cy="0" rx="13" ry="13" transform="matrix(0.6200,-0.3600,0.0000,0.9000,559.40,542.60)" fill="#fff" stroke="#1a1a1a" stroke-width="1.473"/>
<ellipse cx="0" cy="0" rx="10" ry="10" transform="matrix(0.6200,-0.3600,0.0000,0.9000,559.40,542.60)" fill="#fff" stroke="#1a1a1a" stroke-width="1.473"/>
<ellipse cx="0" cy="0" rx="4" ry="4" transform="matrix(0.6200,-0.3600,0.0000,0.9000,559.40,542.60)" fill="#fff" stroke="#1a1a1a" stroke-width="1.473"/>
<ellipse cx="501.6" cy="489.2" rx="1.3" ry="1.8" fill="#111"/>
<ellipse cx="526.2" cy="510.2" rx="1.3" ry="1.8" fill="#111"/>
<ellipse cx="581.6" cy="506.6" rx="1.3" ry="1.8" fill="#111"/>
<path d="M602.86,531.84 L583.94,525.36 A8.20,6.15 -71.08 0 0 578.62,540.87 L597.54,547.36 A8.20,6.15 -71.08 0 0 602.86,531.84Z" fill="#fff" stroke="#1a1a1a" stroke-width="1.2" stroke-linejoin="round"/>
<ellipse cx="600.20" cy="539.60" rx="8.20" ry="6.15" transform="rotate(-71.08 600.20 539.60)" fill="#fff" stroke="#1a1a1a" stroke-width="1.2"/>
<path d="M507.00,427.00 L507.00,449.00 A11,4.8 0 0 0 529.00,449.00 L529.00,427.00 A11,4.8 0 0 0 507.00,427.00Z" fill="#fff" stroke="#1a1a1a" stroke-width="1.2"/>
<ellipse cx="518" cy="427" rx="11" ry="4.8" fill="#fff" stroke="#1a1a1a" stroke-width="1.2"/>
<path d="M509.5,433 V448 M512.5,434 V449.5 M525,434 V449" fill="none" stroke="#1a1a1a" stroke-width="0.9"/>
<path d="M507.80,419.00 L507.80,427.00 A10.2,4.6 0 0 0 528.20,427.00 L528.20,419.00 A10.2,4.6 0 0 0 507.80,419.00Z" fill="#fff" stroke="#1a1a1a" stroke-width="1.2"/>
<ellipse cx="518" cy="419" rx="10.2" ry="4.6" fill="#fff" stroke="#1a1a1a" stroke-width="1.2"/>
<path d="M507.8,421.8 A10.2,4.6 0 0 0 528.2,421.8 M507.8,424.2 A10.2,4.6 0 0 0 528.2,424.2" fill="none" stroke="#1a1a1a" stroke-width="0.9"/>
<ellipse cx="518" cy="418.3" rx="7.5" ry="3.6" fill="#fff" stroke="#1a1a1a" stroke-width="1.1"/>
<ellipse cx="518" cy="418" rx="3.6" ry="1.9" fill="none" stroke="#1a1a1a" stroke-width="1.1"/>
<path d="M545,435 L545.5,457 L556,462 L561,440 Z" fill="#fff" stroke="#1a1a1a" stroke-width="1.3" stroke-linejoin="round"/>
<ellipse cx="553" cy="435.2" rx="8" ry="4" fill="#fff" stroke="#1a1a1a" stroke-width="1.4"/>
<path d="M551,433 V459 M553.5,433 V460" fill="none" stroke="#1a1a1a" stroke-width="0.9"/>
<path d="M554.70,470.00 L554.70,476.00 A13.8,6.5 0 0 0 582.30,476.00 L582.30,470.00 A13.8,6.5 0 0 0 554.70,470.00Z" fill="#fff" stroke="#1a1a1a" stroke-width="1.2"/>
<ellipse cx="568.5" cy="470" rx="13.8" ry="6.5" fill="#fff" stroke="#1a1a1a" stroke-width="1.2"/>
<path d="M554.7,472.5 A13.8,6.5 0 0 0 582.3,472.5" fill="none" stroke="#1a1a1a" stroke-width="0.9"/>
<path d="M554.10,443.30 L554.10,463.00 A14.4,7.6 0 0 0 582.90,463.00 L582.90,443.30 A14.4,7.6 0 0 0 554.10,443.30Z" fill="#fff" stroke="#1a1a1a" stroke-width="1.2"/>
<ellipse cx="568.5" cy="443.3" rx="14.4" ry="7.6" fill="#fff" stroke="#1a1a1a" stroke-width="1.2"/>
<path d="M559,441.5 L562,437.5 L570,436.5 L576.5,439 L577,444 L572,447 L562.5,446.5 Z" fill="#fff" stroke="#1a1a1a" stroke-width="1.2" stroke-linejoin="round"/>
<ellipse cx="568" cy="441.2" rx="5" ry="2.8" fill="#fff" stroke="#1a1a1a" stroke-width="1.1"/>
<ellipse cx="568" cy="440.8" rx="2.6" ry="1.5" fill="none" stroke="#1a1a1a" stroke-width="0.9"/>
<path d="M508.5,458 L508.5,471 L513,475 L529,474.5 L531.5,471 L531.5,457.5 Z" fill="#fff" stroke="#1a1a1a" stroke-width="1.3" stroke-linejoin="round"/>
<path d="M513,461.5 V475 M529,461 V474.5 M508.5,458 L513,461.5 L529,461 L531.5,457.5" fill="none" stroke="#1a1a1a" stroke-width="1.1"/>
<ellipse cx="520.5" cy="454.4" rx="10.3" ry="4.9" fill="#fff" stroke="#1a1a1a" stroke-width="1.3"/>
<ellipse cx="546" cy="486" rx="15" ry="6.5" fill="#fff" stroke="#1a1a1a" stroke-width="1.1"/>
<path d="M532,478 L532,488 L538,492 L554,491.5 L560,487 L560,477 Z" fill="#fff" stroke="#1a1a1a" stroke-width="1.3" stroke-linejoin="round"/>
<path d="M538,481.5 V492 M554,481 V491.5 M532,478 L538,481.5 L554,481 L560,477" fill="none" stroke="#1a1a1a" stroke-width="1.1"/>
<path d="M533.50,467.00 L533.50,477.00 A12.5,5.5 0 0 0 558.50,477.00 L558.50,467.00 A12.5,5.5 0 0 0 533.50,467.00Z" fill="#fff" stroke="#1a1a1a" stroke-width="1.2"/>
<ellipse cx="546" cy="467" rx="12.5" ry="5.5" fill="#fff" stroke="#1a1a1a" stroke-width="1.2"/>
<path d="M533.5,474 A12.5,5.5 0 0 0 558.5,474" fill="none" stroke="#1a1a1a" stroke-width="0.9"/>
<path d="M795.94,152.90 L796.58,144.72 L807.82,138.18 L815.26,141.66 L822.05,153.32 L821.40,161.51 L810.17,168.05 L802.73,164.57Z" fill="#fff" stroke="#1a1a1a" stroke-width="1.2" stroke-linejoin="round"/>
<path d="M810.17,168.05 L821.40,161.51 M810.81,159.86 L822.05,153.32 M804.02,148.20 L815.26,141.66 M796.58,144.72 L807.82,138.18 " fill="none" stroke="#1a1a1a" stroke-width="1.2"/>
<path d="M810.17,168.05 L810.81,159.86 L804.02,148.20 L796.58,144.72 L795.94,152.90 L802.73,164.57Z" fill="#fff" stroke="#1a1a1a" stroke-width="1.2" stroke-linejoin="round"/>
<ellipse cx="803.38" cy="156.38" rx="11.61" ry="4.64" transform="rotate(59.79 803.38 156.38)" fill="none" stroke="#1a1a1a" stroke-width="0.96"/>
<path d="M802.36,168.55 L808.41,165.03 A10.00,4.00 59.79 0 0 798.34,147.74 L792.30,151.26 A10.00,4.00 59.79 0 0 802.36,168.55Z" fill="#fff" stroke="#1a1a1a" stroke-width="1.2" stroke-linejoin="round"/>
<ellipse cx="797.33" cy="159.91" rx="10.00" ry="4.00" transform="rotate(59.79 797.33 159.91)" fill="#fff" stroke="#1a1a1a" stroke-width="1.2"/>
<path d="M779.70,189.26 L805.63,174.17 A16.50,6.60 59.79 0 0 789.02,145.65 L763.10,160.74 A16.50,6.60 59.79 0 0 779.70,189.26Z" fill="#fff" stroke="#1a1a1a" stroke-width="1.2" stroke-linejoin="round"/>
<ellipse cx="771.40" cy="175.00" rx="16.50" ry="6.60" transform="rotate(59.79 771.40 175.00)" fill="#fff" stroke="#1a1a1a" stroke-width="1.2"/>
<path d="M769.66,189.90 L777.44,185.37 A12.00,4.80 59.79 0 0 765.36,164.63 L757.58,169.16 Z" fill="#fff" stroke="none"/>
<path d="M769.66,189.90 L777.44,185.37 A12.00,4.80 59.79 0 0 765.36,164.63 L757.58,169.16" fill="none" stroke="#1a1a1a" stroke-width="1.2"/>
<path d="M675.59,434.22 L698.97,420.72 A17.00,6.80 60.00 0 0 681.97,391.28 L658.59,404.78 A17.00,6.80 60.00 0 0 675.59,434.22Z" fill="#fff" stroke="#1a1a1a" stroke-width="1.2" stroke-linejoin="round"/>
<ellipse cx="667.09" cy="419.50" rx="17.00" ry="6.80" transform="rotate(60.00 667.09 419.50)" fill="#fff" stroke="#1a1a1a" stroke-width="1.2"/>
<ellipse cx="667.09" cy="419.50" rx="12.50" ry="5.00" transform="rotate(60.00 667.09 419.50)" fill="none" stroke="#1a1a1a" stroke-width="1.0"/>
<path d="M668.26,431.53 L672.59,429.03 A11.00,4.40 60.00 0 0 661.59,409.97 L657.26,412.47 A11.00,4.40 60.00 0 0 668.26,431.53Z" fill="#fff" stroke="#1a1a1a" stroke-width="1.2" stroke-linejoin="round"/>
<ellipse cx="662.76" cy="422.00" rx="11.00" ry="4.40" transform="rotate(60.00 662.76 422.00)" fill="#fff" stroke="#1a1a1a" stroke-width="1.2"/>
<path d="M642.70,424.34 L643.50,414.64 L654.76,408.14 L663.56,412.30 L671.56,426.16 L670.76,435.86 L659.50,442.36 L650.70,438.20Z" fill="#fff" stroke="#1a1a1a" stroke-width="1.2" stroke-linejoin="round"/>
<path d="M659.50,442.36 L670.76,435.86 M660.30,432.66 L671.56,426.16 M652.30,418.80 L663.56,412.30 M643.50,414.64 L654.76,408.14 " fill="none" stroke="#1a1a1a" stroke-width="1.2"/>
<path d="M659.50,442.36 L660.30,432.66 L652.30,418.80 L643.50,414.64 L642.70,424.34 L650.70,438.20Z" fill="#fff" stroke="#1a1a1a" stroke-width="1.2" stroke-linejoin="round"/>
<ellipse cx="651.50" cy="428.50" rx="13.12" ry="5.25" transform="rotate(60.00 651.50 428.50)" fill="none" stroke="#1a1a1a" stroke-width="1.0"/>
<ellipse cx="651.50" cy="428.50" rx="9.92" ry="3.97" transform="rotate(60.00 651.50 428.50)" fill="#fff" stroke="#1a1a1a" stroke-width="1.2"/>
<ellipse cx="651.50" cy="428.50" rx="7.20" ry="2.88" transform="rotate(60.00 651.50 428.50)" fill="none" stroke="#1a1a1a" stroke-width="0.9"/>
<path d="M442.37,528.88 L449.30,524.88 A9.50,4.94 60.00 0 0 439.80,508.42 L432.87,512.42 A9.50,4.94 60.00 0 0 442.37,528.88Z" fill="#fff" stroke="#1a1a1a" stroke-width="1.3" stroke-linejoin="round"/>
<ellipse cx="437.62" cy="520.65" rx="9.50" ry="4.94" transform="rotate(60.00 437.62 520.65)" fill="#fff" stroke="#1a1a1a" stroke-width="1.3"/>
<path d="M422.06,521.84 L423.94,512.96 L430.87,508.96 L439.51,511.76 L446.26,523.46 L444.37,532.34 L437.44,536.34 L428.81,533.53Z" fill="#fff" stroke="#1a1a1a" stroke-width="1.3" stroke-linejoin="round"/>
<path d="M437.45,536.34 L444.37,532.34 M439.34,527.46 L446.26,523.46 M432.59,515.76 L439.51,511.76 M423.94,512.96 L430.87,508.96 " fill="none" stroke="#1a1a1a" stroke-width="1.3"/>
<path d="M437.45,536.34 L439.34,527.46 L432.59,515.76 L423.94,512.96 L422.06,521.84 L428.81,533.54Z" fill="#fff" stroke="#1a1a1a" stroke-width="1.3" stroke-linejoin="round"/>
<path d="M430.35,539.05 L436.85,535.30 A12.30,6.40 60.00 0 0 424.55,514.00 L418.05,517.75 A12.30,6.40 60.00 0 0 430.35,539.05Z" fill="#fff" stroke="#1a1a1a" stroke-width="1.9" stroke-linejoin="round"/>
<ellipse cx="424.20" cy="528.40" rx="12.30" ry="6.40" transform="rotate(60.00 424.20 528.40)" fill="#fff" stroke="#1a1a1a" stroke-width="1.9"/>
<ellipse cx="427.66" cy="526.40" rx="12.30" ry="6.40" transform="rotate(60.00 427.66 526.40)" fill="none" stroke="#1a1a1a" stroke-width="1.0"/>
<ellipse cx="424.20" cy="528.40" rx="9.80" ry="5.10" transform="rotate(60.00 424.20 528.40)" fill="#fff" stroke="#1a1a1a" stroke-width="1.5"/>
<ellipse cx="425.07" cy="527.90" rx="7.50" ry="3.90" transform="rotate(60.00 425.07 527.90)" fill="none" stroke="#1a1a1a" stroke-width="1.8"/>
<ellipse cx="425.50" cy="527.65" rx="3.00" ry="1.56" transform="rotate(60.00 425.50 527.65)" fill="none" stroke="#1a1a1a" stroke-width="1.2"/>
<path d="M439.97,559.68 L446.90,555.68 A9.50,4.94 60.00 0 0 437.40,539.22 L430.47,543.22 A9.50,4.94 60.00 0 0 439.97,559.68Z" fill="#fff" stroke="#1a1a1a" stroke-width="1.3" stroke-linejoin="round"/>
<ellipse cx="435.22" cy="551.45" rx="9.50" ry="4.94" transform="rotate(60.00 435.22 551.45)" fill="#fff" stroke="#1a1a1a" stroke-width="1.3"/>
<path d="M419.65,552.64 L421.55,543.76 L428.47,539.76 L437.11,542.56 L443.86,554.26 L441.97,563.14 L435.05,567.14 L426.40,564.34Z" fill="#fff" stroke="#1a1a1a" stroke-width="1.3" stroke-linejoin="round"/>
<path d="M435.05,567.14 L441.97,563.14 M436.94,558.26 L443.86,554.26 M430.19,546.56 L437.11,542.56 M421.54,543.76 L428.47,539.76 " fill="none" stroke="#1a1a1a" stroke-width="1.3"/>
<path d="M435.05,567.14 L436.94,558.26 L430.19,546.56 L421.54,543.76 L419.66,552.64 L426.41,564.34Z" fill="#fff" stroke="#1a1a1a" stroke-width="1.3" stroke-linejoin="round"/>
<path d="M427.95,569.85 L434.45,566.10 A12.30,6.40 60.00 0 0 422.15,544.80 L415.65,548.55 A12.30,6.40 60.00 0 0 427.95,569.85Z" fill="#fff" stroke="#1a1a1a" stroke-width="1.9" stroke-linejoin="round"/>
<ellipse cx="421.80" cy="559.20" rx="12.30" ry="6.40" transform="rotate(60.00 421.80 559.20)" fill="#fff" stroke="#1a1a1a" stroke-width="1.9"/>
<ellipse cx="425.26" cy="557.20" rx="12.30" ry="6.40" transform="rotate(60.00 425.26 557.20)" fill="none" stroke="#1a1a1a" stroke-width="1.0"/>
<ellipse cx="421.80" cy="559.20" rx="9.80" ry="5.10" transform="rotate(60.00 421.80 559.20)" fill="#fff" stroke="#1a1a1a" stroke-width="1.5"/>
<ellipse cx="422.67" cy="558.70" rx="7.50" ry="3.90" transform="rotate(60.00 422.67 558.70)" fill="none" stroke="#1a1a1a" stroke-width="1.8"/>
<ellipse cx="423.10" cy="558.45" rx="3.00" ry="1.56" transform="rotate(60.00 423.10 558.45)" fill="none" stroke="#1a1a1a" stroke-width="1.2"/>
<path d="M494.17,575.98 L501.10,571.98 A9.50,4.94 60.00 0 0 491.60,555.52 L484.67,559.52 A9.50,4.94 60.00 0 0 494.17,575.98Z" fill="#fff" stroke="#1a1a1a" stroke-width="1.3" stroke-linejoin="round"/>
<ellipse cx="489.42" cy="567.75" rx="9.50" ry="4.94" transform="rotate(60.00 489.42 567.75)" fill="#fff" stroke="#1a1a1a" stroke-width="1.3"/>
<path d="M473.86,568.94 L475.75,560.06 L482.67,556.06 L491.31,558.86 L498.06,570.56 L496.17,579.44 L489.25,583.44 L480.61,580.63Z" fill="#fff" stroke="#1a1a1a" stroke-width="1.3" stroke-linejoin="round"/>
<path d="M489.25,583.44 L496.17,579.44 M491.14,574.56 L498.06,570.56 M484.39,562.86 L491.31,558.86 M475.74,560.06 L482.67,556.06 " fill="none" stroke="#1a1a1a" stroke-width="1.3"/>
<path d="M489.25,583.44 L491.14,574.56 L484.39,562.86 L475.74,560.06 L473.86,568.94 L480.61,580.64Z" fill="#fff" stroke="#1a1a1a" stroke-width="1.3" stroke-linejoin="round"/>
<path d="M482.15,586.15 L488.65,582.40 A12.30,6.40 60.00 0 0 476.35,561.10 L469.85,564.85 A12.30,6.40 60.00 0 0 482.15,586.15Z" fill="#fff" stroke="#1a1a1a" stroke-width="1.9" stroke-linejoin="round"/>
<ellipse cx="476.00" cy="575.50" rx="12.30" ry="6.40" transform="rotate(60.00 476.00 575.50)" fill="#fff" stroke="#1a1a1a" stroke-width="1.9"/>
<ellipse cx="479.46" cy="573.50" rx="12.30" ry="6.40" transform="rotate(60.00 479.46 573.50)" fill="none" stroke="#1a1a1a" stroke-width="1.0"/>
<ellipse cx="476.00" cy="575.50" rx="9.80" ry="5.10" transform="rotate(60.00 476.00 575.50)" fill="#fff" stroke="#1a1a1a" stroke-width="1.5"/>
<ellipse cx="476.87" cy="575.00" rx="7.50" ry="3.90" transform="rotate(60.00 476.87 575.00)" fill="none" stroke="#1a1a1a" stroke-width="1.8"/>
<ellipse cx="477.30" cy="574.75" rx="3.00" ry="1.56" transform="rotate(60.00 477.30 574.75)" fill="none" stroke="#1a1a1a" stroke-width="1.2"/>
<path d="M623.46,460.51 L630.39,456.51 A13.00,7.15 60.00 0 0 617.39,433.99 L610.46,437.99 A13.00,7.15 60.00 0 0 623.46,460.51Z" fill="#fff" stroke="#1a1a1a" stroke-width="1.4" stroke-linejoin="round"/>
<ellipse cx="616.96" cy="449.25" rx="13.00" ry="7.15" transform="rotate(60.00 616.96 449.25)" fill="#fff" stroke="#1a1a1a" stroke-width="1.4"/>
<ellipse cx="619.56" cy="447.75" rx="13.00" ry="7.15" transform="rotate(60.00 619.56 447.75)" fill="none" stroke="#1a1a1a" stroke-width="1.1"/>
<path d="M603.48,449.81 L605.51,441.43 L610.71,438.43 L618.99,440.86 L625.24,451.69 L623.21,460.07 L618.01,463.07 L609.73,460.64Z" fill="#fff" stroke="#1a1a1a" stroke-width="1.3" stroke-linejoin="round"/>
<path d="M618.01,463.08 L623.21,460.08 M620.04,454.69 L625.24,451.69 M613.79,443.86 L618.99,440.86 M605.51,441.42 L610.71,438.42 " fill="none" stroke="#1a1a1a" stroke-width="1.3"/>
<path d="M618.01,463.08 L620.04,454.69 L613.79,443.86 L605.51,441.42 L603.48,449.81 L609.73,460.64Z" fill="#fff" stroke="#1a1a1a" stroke-width="1.3" stroke-linejoin="round"/>
<path d="M611.10,462.10 L615.86,459.35 A8.20,4.51 60.00 0 0 607.66,445.15 L602.90,447.90 A8.20,4.51 60.00 0 0 611.10,462.10Z" fill="#fff" stroke="#1a1a1a" stroke-width="1.3" stroke-linejoin="round"/>
<ellipse cx="607.00" cy="455.00" rx="8.20" ry="4.51" transform="rotate(60.00 607.00 455.00)" fill="#fff" stroke="#1a1a1a" stroke-width="1.3"/>
<ellipse cx="607.00" cy="455.00" rx="3.60" ry="1.98" transform="rotate(60.00 607.00 455.00)" fill="none" stroke="#1a1a1a" stroke-width="1.1"/>
<path d="M754.96,543.01 L761.89,539.01 A13.00,7.15 60.00 0 0 748.89,516.49 L741.96,520.49 A13.00,7.15 60.00 0 0 754.96,543.01Z" fill="#fff" stroke="#1a1a1a" stroke-width="1.4" stroke-linejoin="round"/>
<ellipse cx="748.46" cy="531.75" rx="13.00" ry="7.15" transform="rotate(60.00 748.46 531.75)" fill="#fff" stroke="#1a1a1a" stroke-width="1.4"/>
<ellipse cx="751.06" cy="530.25" rx="13.00" ry="7.15" transform="rotate(60.00 751.06 530.25)" fill="none" stroke="#1a1a1a" stroke-width="1.1"/>
<path d="M734.98,532.31 L737.01,523.92 L742.21,520.92 L750.49,523.36 L756.74,534.18 L754.71,542.58 L749.51,545.58 L741.23,543.14Z" fill="#fff" stroke="#1a1a1a" stroke-width="1.3" stroke-linejoin="round"/>
<path d="M749.51,545.58 L754.71,542.58 M751.54,537.19 L756.74,534.19 M745.29,526.36 L750.49,523.36 M737.01,523.92 L742.21,520.92 " fill="none" stroke="#1a1a1a" stroke-width="1.3"/>
<path d="M749.51,545.58 L751.54,537.19 L745.29,526.36 L737.01,523.92 L734.98,532.31 L741.23,543.14Z" fill="#fff" stroke="#1a1a1a" stroke-width="1.3" stroke-linejoin="round"/>
<path d="M742.60,544.60 L747.36,541.85 A8.20,4.51 60.00 0 0 739.16,527.65 L734.40,530.40 A8.20,4.51 60.00 0 0 742.60,544.60Z" fill="#fff" stroke="#1a1a1a" stroke-width="1.3" stroke-linejoin="round"/>
<ellipse cx="738.50" cy="537.50" rx="8.20" ry="4.51" transform="rotate(60.00 738.50 537.50)" fill="#fff" stroke="#1a1a1a" stroke-width="1.3"/>
<ellipse cx="738.50" cy="537.50" rx="3.60" ry="1.98" transform="rotate(60.00 738.50 537.50)" fill="none" stroke="#1a1a1a" stroke-width="1.1"/>
<path d="M793,494 L803,487 L815,503 L806,514 Z" fill="#fff" stroke="#1a1a1a" stroke-width="1.2" stroke-linejoin="round"/>
<ellipse cx="816.3" cy="493.1" rx="11.2" ry="13.6" transform="rotate(30 816.3 493.1)" fill="#fff" stroke="#1a1a1a" stroke-width="1.8"/>
<ellipse cx="817" cy="492.8" rx="8.3" ry="10.6" transform="rotate(30 817 492.8)" fill="#fff" stroke="#1a1a1a" stroke-width="1.3"/>
<ellipse cx="817.5" cy="492.6" rx="6.6" ry="8.8" transform="rotate(30 817.5 492.6)" fill="none" stroke="#1a1a1a" stroke-width="0.9"/>
<path d="M773.01,507.95 L774.50,497.28 L786.62,490.28 L796.61,494.33 L805.11,509.05 L803.62,519.72 L791.50,526.72 L781.51,522.67Z" fill="#fff" stroke="#1a1a1a" stroke-width="1.2" stroke-linejoin="round"/>
<path d="M791.50,526.72 L803.62,519.72 M792.99,516.05 L805.11,509.05 M784.49,501.33 L796.61,494.33 M774.50,497.28 L786.62,490.28 " fill="none" stroke="#1a1a1a" stroke-width="1.2"/>
<path d="M791.50,526.72 L792.99,516.05 L784.49,501.33 L774.50,497.28 L773.01,507.95 L781.51,522.67Z" fill="#fff" stroke="#1a1a1a" stroke-width="1.2" stroke-linejoin="round"/>
<ellipse cx="783.00" cy="512.00" rx="13.00" ry="5.85" transform="rotate(60.00 783.00 512.00)" fill="#fff" stroke="#1a1a1a" stroke-width="1.2"/>
<ellipse cx="783.50" cy="511.70" rx="10.00" ry="4.50" transform="rotate(60.00 783.50 511.70)" fill="none" stroke="#1a1a1a" stroke-width="1.0"/>
<ellipse cx="784.00" cy="511.40" rx="7.00" ry="3.15" transform="rotate(60.00 784.00 511.40)" fill="none" stroke="#1a1a1a" stroke-width="0.9"/>
<path d="M841.62,119.52 L844.50,104.58 L859.22,96.08 L873.60,101.06 L885.10,120.98 L882.22,135.92 L867.50,144.42 L853.12,139.44Z" fill="#fff" stroke="#1a1a1a" stroke-width="1.2" stroke-linejoin="round"/>
<path d="M867.50,144.42 L882.22,135.92 M870.38,129.48 L885.10,120.98 M858.87,109.56 L873.60,101.06 M844.50,104.58 L859.22,96.08 " fill="none" stroke="#1a1a1a" stroke-width="1.2"/>
<path d="M867.50,144.42 L870.38,129.48 L858.87,109.56 L844.50,104.58 L841.62,119.52 L853.13,139.44Z" fill="#fff" stroke="#1a1a1a" stroke-width="1.2" stroke-linejoin="round"/>
<path d="M834.06,127.21 L836.25,115.84 L845.78,110.34 L856.71,114.13 L865.46,129.29 L863.28,140.66 L853.75,146.16 L842.81,142.37Z" fill="#fff" stroke="#1a1a1a" stroke-width="1.2" stroke-linejoin="round"/>
<path d="M853.75,146.16 L863.28,140.66 M855.94,134.79 L865.46,129.29 M847.19,119.63 L856.71,114.13 M836.25,115.84 L845.78,110.34 " fill="none" stroke="#1a1a1a" stroke-width="1.2"/>
<path d="M853.75,146.16 L855.94,134.79 L847.19,119.63 L836.25,115.84 L834.06,127.21 L842.81,142.37Z" fill="#fff" stroke="#1a1a1a" stroke-width="1.2" stroke-linejoin="round"/>
<ellipse cx="845.00" cy="131.00" rx="15.00" ry="7.50" transform="rotate(60.00 845.00 131.00)" fill="none" stroke="#1a1a1a" stroke-width="1.0"/>
<path d="M844.00,144.53 L850.06,141.03 A11.00,6.05 60.00 0 0 839.06,121.97 L833.00,125.47 A11.00,6.05 60.00 0 0 844.00,144.53Z" fill="#fff" stroke="#1a1a1a" stroke-width="1.9" stroke-linejoin="round"/>
<ellipse cx="838.50" cy="135.00" rx="11.00" ry="6.05" transform="rotate(60.00 838.50 135.00)" fill="#fff" stroke="#1a1a1a" stroke-width="1.9"/>
<ellipse cx="838.50" cy="135.00" rx="8.20" ry="4.51" transform="rotate(60.00 838.50 135.00)" fill="#fff" stroke="#1a1a1a" stroke-width="1.3"/>
<ellipse cx="839.30" cy="134.50" rx="6.30" ry="3.47" transform="rotate(60.00 839.30 134.50)" fill="none" stroke="#1a1a1a" stroke-width="1.0"/>
<path d="M896,83 Q905,73 922.3,71 Q936,71 944,76 L928,97.4 L927.3,117.2 L912,116 Z" fill="#fff" stroke="#1a1a1a" stroke-width="1.2" stroke-linejoin="round"/>
<ellipse cx="905" cy="96" rx="14.3" ry="18.5" transform="rotate(-24 905 96)" fill="#fff" stroke="#1a1a1a" stroke-width="1.2"/>
<ellipse cx="899.8" cy="100.7" rx="14.3" ry="18.5" transform="rotate(-24 899.8 100.7)" fill="#fff" stroke="#1a1a1a" stroke-width="1.7"/>
<ellipse cx="900.5" cy="100.5" rx="11.5" ry="15.5" transform="rotate(-24 900.5 100.5)" fill="#fff" stroke="#1a1a1a" stroke-width="1.2"/>
<ellipse cx="901.5" cy="100.5" rx="9.8" ry="13.5" transform="rotate(-24 901.5 100.5)" fill="none" stroke="#1a1a1a" stroke-width="0.9"/>
<path d="M943.2,75.4 L959.7,76.5 L971.8,83.1 L971.8,106.2 L955.3,126 L939.9,124.9 L927.3,117.2 L927.8,97.4 Z" fill="#fff" stroke="#1a1a1a" stroke-width="1.3" stroke-linejoin="round"/>
<path d="M927.8,97.4 L938.8,101.8 L954.2,83.1 L971.8,83.1 M938.8,101.8 L939.9,124.9" fill="none" stroke="#1a1a1a" stroke-width="1.2"/>
<ellipse cx="955.3" cy="104" rx="12" ry="17" transform="rotate(22 955.3 104)" fill="#fff" stroke="#1a1a1a" stroke-width="1.3"/>
<ellipse cx="955.8" cy="104" rx="10" ry="14.5" transform="rotate(22 955.8 104)" fill="#fff" stroke="#1a1a1a" stroke-width="1.5"/>
<ellipse cx="956.3" cy="104" rx="8" ry="12" transform="rotate(22 956.3 104)" fill="none" stroke="#1a1a1a" stroke-width="0.9"/>
<path d="M641.2,700.4 L641.6,713.9 L651.5,719.3 L660,718 L662,705 L646,695 Z" fill="#fff" stroke="#1a1a1a" stroke-width="1.2" stroke-linejoin="round"/>
<path d="M641.2,700.4 L651.5,705.8 L651.5,719.3 M651.5,705.8 L660,705" fill="none" stroke="#1a1a1a" stroke-width="1.0"/>
<path d="M664,712 Q676,704 684,707 Q690,716 681,723 Q672,725 662,717 Z" fill="#fff" stroke="#1a1a1a" stroke-width="1.2"/>
<path d="M643.20,694.60 L655.80,711.40 A16.00,9.60 143.13 0 0 681.40,692.20 L668.80,675.40 A16.00,9.60 143.13 0 0 643.20,694.60Z" fill="#fff" stroke="#1a1a1a" stroke-width="1.2" stroke-linejoin="round"/>
<ellipse cx="656.00" cy="685.00" rx="16.00" ry="9.60" transform="rotate(143.13 656.00 685.00)" fill="#fff" stroke="#1a1a1a" stroke-width="1.2"/>
<path d="M639.20,682.60 L646.40,692.20 A12.00,7.20 143.13 0 0 665.60,677.80 L658.40,668.20 Z" fill="#fff" stroke="none"/>
<path d="M639.20,682.60 L646.40,692.20 A12.00,7.20 143.13 0 0 665.60,677.80 L658.40,668.20" fill="none" stroke="#1a1a1a" stroke-width="1.2"/>
<path d="M924.5,110 V177.5 H954.5" fill="none" stroke="#333" stroke-width="1.05"/>
<path d="M854.4,149 V215 H884" fill="none" stroke="#333" stroke-width="1.05"/>
<path d="M326.2,277.1 H355.2 V346.6" fill="none" stroke="#333" stroke-width="1.05"/>
<path d="M259,353 H287.8 V424.7" fill="none" stroke="#333" stroke-width="1.05"/>
<path d="M489,344.4 H518.6 V414" fill="none" stroke="#333" stroke-width="1.05"/>
<path d="M586.6,367.6 H616 V435" fill="none" stroke="#333" stroke-width="1.05"/>
<path d="M433,450.8 V509.1" fill="none" stroke="#333" stroke-width="1.05"/>
<path d="M496.8,576.2 L513.7,616.5 H543.4" fill="none" stroke="#333" stroke-width="1.05"/>
<path d="M875.6,366.4 V436.6 H904.8" fill="none" stroke="#333" stroke-width="1.05"/>
<path d="M808.9,510.4 V575.2 H837.7" fill="none" stroke="#333" stroke-width="1.05"/>
<path d="M752.7,546.4 V613.9 H781.9" fill="none" stroke="#333" stroke-width="1.05"/>
<path d="M162.7,554.8 H192.4 V625.8" fill="none" stroke="#333" stroke-width="1.05"/>
<path d="M199.6,696 V767 H229.3" fill="none" stroke="#333" stroke-width="1.05"/>
<path d="M426.2,714 V785.4 H456.2" fill="none" stroke="#333" stroke-width="1.05"/>
<text letter-spacing="0.6" transform="translate(957.72,185.40) scale(0.92,1.05)">10</text>
<text letter-spacing="0.6" transform="translate(886.52,223.40) scale(0.92,1.05)">05</text>
<text letter-spacing="0.6" transform="translate(302.52,283.20) scale(0.92,1.05)">08</text>
<text letter-spacing="0.6" transform="translate(235.12,360.20) scale(0.92,1.05)">04</text>
<text letter-spacing="0.6" transform="translate(465.72,350.20) scale(0.92,1.05)">01</text>
<text letter-spacing="0.6" transform="translate(563.52,374.20) scale(0.92,1.05)">02</text>
<text letter-spacing="0.6" transform="translate(422.12,447.40) scale(0.92,1.05)">02</text>
<text letter-spacing="0.6" transform="translate(907.52,445.00) scale(0.92,1.05)">03</text>
<text letter-spacing="0.6" transform="translate(840.52,582.40) scale(0.92,1.05)">09</text>
<text letter-spacing="0.6" transform="translate(784.32,622.20) scale(0.92,1.05)">02</text>
<text letter-spacing="0.6" transform="translate(545.72,624.40) scale(0.92,1.05)">02</text>
<text letter-spacing="0.6" transform="translate(138.92,560.80) scale(0.92,1.05)">07</text>
<text letter-spacing="0.6" transform="translate(231.32,774.80) scale(0.92,1.05)">07</text>
<text letter-spacing="0.6" transform="translate(458.12,793.00) scale(0.92,1.05)">06</text>
</svg></body></html>
